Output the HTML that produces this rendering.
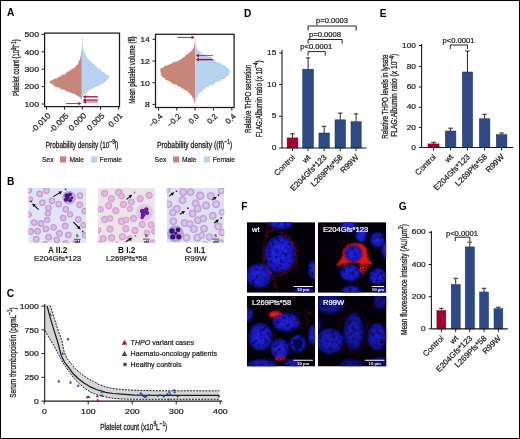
<!DOCTYPE html>
<html><head><meta charset="utf-8"><style>
html,body{margin:0;padding:0;background:#fff;}
svg{display:block;font-family:"Liberation Sans", sans-serif;will-change:transform;}
</style></head><body>
<svg width="520" height="439" viewBox="0 0 520 439">
<defs><clipPath id="clipB1"><rect x="28.3" y="187.9" width="57.7" height="55.099999999999994"/></clipPath><radialGradient id="rbc1"><stop offset="0" stop-color="#d9c2ea"/><stop offset="0.35" stop-color="#d9c2ea"/><stop offset="0.75" stop-color="#c89ad8"/><stop offset="0.92" stop-color="#c89ad8"/><stop offset="1" stop-color="#c89ad8" stop-opacity="0.6"/></radialGradient><clipPath id="clipB2"><rect x="98" y="188" width="57" height="54.80000000000001"/></clipPath><radialGradient id="rbc2"><stop offset="0" stop-color="#e2bde0"/><stop offset="0.35" stop-color="#e2bde0"/><stop offset="0.75" stop-color="#d7a3d5"/><stop offset="0.92" stop-color="#d7a3d5"/><stop offset="1" stop-color="#d7a3d5" stop-opacity="0.6"/></radialGradient><clipPath id="clipB3"><rect x="166.8" y="188" width="57.5" height="54.80000000000001"/></clipPath><radialGradient id="rbc3"><stop offset="0" stop-color="#d8c8ec"/><stop offset="0.35" stop-color="#d8c8ec"/><stop offset="0.75" stop-color="#c3a4da"/><stop offset="0.92" stop-color="#c3a4da"/><stop offset="1" stop-color="#c3a4da" stop-opacity="0.6"/></radialGradient><filter id="blurN" x="-30%" y="-30%" width="160%" height="160%"><feGaussianBlur stdDeviation="0.8"/></filter><filter id="texN" x="-10%" y="-10%" width="120%" height="120%" color-interpolation-filters="sRGB"><feTurbulence type="fractalNoise" baseFrequency="0.25" numOctaves="2" seed="4" result="noise"/><feColorMatrix in="noise" type="matrix" values="0 0 0 0 0  0 0 0 0 0  0 0 0 0 0  0 0 0 1.7 0.08" result="mask"/><feComposite in="SourceGraphic" in2="mask" operator="in" result="tex"/><feGaussianBlur in="tex" stdDeviation="0.45"/></filter><filter id="blurR" x="-30%" y="-30%" width="160%" height="160%"><feGaussianBlur stdDeviation="0.9"/></filter><filter id="blurD" x="-30%" y="-30%" width="160%" height="160%"><feGaussianBlur stdDeviation="0.35"/></filter><radialGradient id="nucg"><stop offset="0" stop-color="#2626f4"/><stop offset="0.65" stop-color="#1e1ee0"/><stop offset="1" stop-color="#12129a"/></radialGradient><clipPath id="clipF1"><rect x="247" y="222.2" width="68" height="70.6"/></clipPath><clipPath id="clipF2"><rect x="318" y="222.2" width="68.2" height="70.6"/></clipPath><clipPath id="clipF3"><rect x="247" y="296" width="68" height="70.5"/></clipPath><clipPath id="clipF4"><rect x="318" y="296" width="68.5" height="70.5"/></clipPath></defs>
<rect x="0" y="0" width="520" height="439" fill="#fff"/>
<text transform="translate(7.00,16.40)" font-size="10.2" text-anchor="start" font-weight="bold" fill="#000" >A</text>
<text transform="translate(7.00,184.50)" font-size="10.2" text-anchor="start" font-weight="bold" fill="#000" >B</text>
<text transform="translate(6.80,296.70)" font-size="10.2" text-anchor="start" font-weight="bold" fill="#000" >C</text>
<text transform="translate(244.00,16.70)" font-size="10.2" text-anchor="start" font-weight="bold" fill="#000" >D</text>
<text transform="translate(379.70,16.70)" font-size="10.2" text-anchor="start" font-weight="bold" fill="#000" >E</text>
<text transform="translate(241.20,210.10)" font-size="10.2" text-anchor="start" font-weight="bold" fill="#000" >F</text>
<text transform="translate(398.80,210.00)" font-size="10.2" text-anchor="start" font-weight="bold" fill="#000" >G</text>
<path d="M81.80,49.50 L81.60,49.50 L81.60,50.50 L81.44,50.50 L81.44,51.50 L81.29,51.50 L81.29,52.50 L81.16,52.50 L81.16,53.50 L80.94,53.50 L80.94,54.50 L80.86,54.50 L80.86,55.50 L80.63,55.50 L80.63,56.50 L80.39,56.50 L80.39,57.50 L80.24,57.50 L80.24,58.50 L79.96,58.50 L79.96,59.50 L79.52,59.50 L79.52,60.50 L78.95,60.50 L78.95,61.50 L78.52,61.50 L78.52,62.50 L78.32,62.50 L78.32,63.50 L78.01,63.50 L78.01,64.50 L76.59,64.50 L76.59,65.50 L75.68,65.50 L75.68,66.50 L75.25,66.50 L75.25,67.50 L73.94,67.50 L73.94,68.50 L71.61,68.50 L71.61,69.50 L70.81,69.50 L70.81,70.50 L69.19,70.50 L69.19,71.50 L66.75,71.50 L66.75,72.50 L66.62,72.50 L66.62,73.50 L64.99,73.50 L64.99,74.50 L61.58,74.50 L61.58,75.50 L61.14,75.50 L61.14,76.50 L58.64,76.50 L58.64,77.50 L57.35,77.50 L57.35,78.50 L54.33,78.50 L54.33,79.50 L52.45,79.50 L52.45,80.50 L50.15,80.50 L50.15,81.50 L49.62,81.50 L49.62,82.50 L49.75,82.50 L49.75,83.50 L51.76,83.50 L51.76,84.50 L53.58,84.50 L53.58,85.50 L53.87,85.50 L53.87,86.50 L56.54,86.50 L56.54,87.50 L60.09,87.50 L60.09,88.50 L60.89,88.50 L60.89,89.50 L64.53,89.50 L64.53,90.50 L66.11,90.50 L66.11,91.50 L68.83,91.50 L68.83,92.50 L71.62,92.50 L71.62,93.50 L74.68,93.50 L74.68,94.50 L76.07,94.50 L76.07,95.50 L77.87,95.50 L77.87,96.50 L79.52,96.50 L79.52,97.50 L80.47,97.50 L80.47,98.50 L81.19,98.50 L81.19,99.50 L81.80,99.50 Z" fill="#c8857a" stroke="none" stroke-width="0" />
<path d="M81.80,37.00 L82.30,37.00 L82.30,38.00 L82.36,38.00 L82.36,39.00 L82.40,39.00 L82.40,40.00 L82.45,40.00 L82.45,41.00 L82.52,41.00 L82.52,42.00 L82.58,42.00 L82.58,43.00 L82.61,43.00 L82.61,44.00 L82.66,44.00 L82.66,45.00 L82.78,45.00 L82.78,46.00 L82.98,46.00 L82.98,47.00 L83.18,47.00 L83.18,48.00 L83.36,48.00 L83.36,49.00 L83.55,49.00 L83.55,50.00 L83.67,50.00 L83.67,51.00 L84.10,51.00 L84.10,52.00 L84.65,52.00 L84.65,53.00 L85.14,53.00 L85.14,54.00 L85.70,54.00 L85.70,55.00 L85.88,55.00 L85.88,56.00 L86.48,56.00 L86.48,57.00 L87.07,57.00 L87.07,58.00 L87.70,58.00 L87.70,59.00 L88.66,59.00 L88.66,60.00 L89.76,60.00 L89.76,61.00 L90.88,61.00 L90.88,62.00 L91.81,62.00 L91.81,63.00 L92.89,63.00 L92.89,64.00 L94.23,64.00 L94.23,65.00 L94.96,65.00 L94.96,66.00 L96.62,66.00 L96.62,67.00 L97.52,67.00 L97.52,68.00 L98.36,68.00 L98.36,69.00 L100.76,69.00 L100.76,70.00 L100.71,70.00 L100.71,71.00 L101.93,71.00 L101.93,72.00 L104.56,72.00 L104.56,73.00 L105.66,73.00 L105.66,74.00 L105.72,74.00 L105.72,75.00 L108.59,75.00 L108.59,76.00 L109.28,76.00 L109.28,77.00 L109.57,77.00 L109.57,78.00 L108.04,78.00 L108.04,79.00 L108.16,79.00 L108.16,80.00 L106.31,80.00 L106.31,81.00 L106.15,81.00 L106.15,82.00 L103.60,82.00 L103.60,83.00 L103.17,83.00 L103.17,84.00 L100.44,84.00 L100.44,85.00 L99.10,85.00 L99.10,86.00 L96.71,86.00 L96.71,87.00 L94.52,87.00 L94.52,88.00 L92.67,88.00 L92.67,89.00 L90.68,89.00 L90.68,90.00 L88.88,90.00 L88.88,91.00 L87.45,91.00 L87.45,92.00 L86.52,92.00 L86.52,93.00 L85.12,93.00 L85.12,94.00 L84.13,94.00 L84.13,95.00 L83.03,95.00 L83.03,96.00 L81.80,96.00 Z" fill="#b7d3f1" stroke="none" stroke-width="0" />
<line x1="97.80" y1="96.80" x2="85.20" y2="96.80" stroke="#a3102e" stroke-width="1.3" />
<path d="M82.80,96.80 L85.80,95.00 L85.80,98.60 Z" fill="#a3102e" stroke="none" stroke-width="0" />
<line x1="97.80" y1="100.10" x2="85.20" y2="100.10" stroke="#a3102e" stroke-width="1.3" />
<path d="M82.80,100.10 L85.80,98.30 L85.80,101.90 Z" fill="#a3102e" stroke="none" stroke-width="0" />
<line x1="97.80" y1="102.00" x2="85.20" y2="102.00" stroke="#a3102e" stroke-width="0.8" />
<path d="M82.80,102.00 L85.80,100.20 L85.80,103.80 Z" fill="#a3102e" stroke="none" stroke-width="0" />
<line x1="65.90" y1="103.50" x2="78.90" y2="103.50" stroke="#a3102e" stroke-width="0.8" />
<path d="M81.30,103.50 L78.30,101.70 L78.30,105.30 Z" fill="#a3102e" stroke="none" stroke-width="0" />
<rect x="44.6" y="33.1" width="74.90" height="73.50" fill="none" stroke="#1a1a1a" stroke-width="1.25"/>
<line x1="41.60" y1="34.40" x2="44.60" y2="34.40" stroke="#1a1a1a" stroke-width="1" />
<text transform="translate(39.00,37.20) scale(1.12,1)" font-size="7.8" text-anchor="end" font-weight="normal" fill="#222"  stroke="#222" stroke-width="0.22">500</text>
<line x1="41.60" y1="51.80" x2="44.60" y2="51.80" stroke="#1a1a1a" stroke-width="1" />
<text transform="translate(39.00,54.60) scale(1.12,1)" font-size="7.8" text-anchor="end" font-weight="normal" fill="#222"  stroke="#222" stroke-width="0.22">400</text>
<line x1="41.60" y1="69.20" x2="44.60" y2="69.20" stroke="#1a1a1a" stroke-width="1" />
<text transform="translate(39.00,72.00) scale(1.12,1)" font-size="7.8" text-anchor="end" font-weight="normal" fill="#222"  stroke="#222" stroke-width="0.22">300</text>
<line x1="41.60" y1="86.60" x2="44.60" y2="86.60" stroke="#1a1a1a" stroke-width="1" />
<text transform="translate(39.00,89.40) scale(1.12,1)" font-size="7.8" text-anchor="end" font-weight="normal" fill="#222"  stroke="#222" stroke-width="0.22">200</text>
<line x1="41.60" y1="104.00" x2="44.60" y2="104.00" stroke="#1a1a1a" stroke-width="1" />
<text transform="translate(39.00,106.80) scale(1.12,1)" font-size="7.8" text-anchor="end" font-weight="normal" fill="#222"  stroke="#222" stroke-width="0.22">100</text>
<line x1="46.50" y1="106.60" x2="46.50" y2="109.60" stroke="#1a1a1a" stroke-width="1" />
<text transform="translate(51.00,116.20) rotate(-45) scale(1.07,1)" font-size="7.9" text-anchor="end" font-weight="normal" fill="#222"  stroke="#222" stroke-width="0.22">-0.010</text>
<line x1="64.60" y1="106.60" x2="64.60" y2="109.60" stroke="#1a1a1a" stroke-width="1" />
<text transform="translate(69.10,116.20) rotate(-45) scale(1.07,1)" font-size="7.9" text-anchor="end" font-weight="normal" fill="#222"  stroke="#222" stroke-width="0.22">-0.005</text>
<line x1="82.30" y1="106.60" x2="82.30" y2="109.60" stroke="#1a1a1a" stroke-width="1" />
<text transform="translate(86.80,116.20) rotate(-45) scale(1.07,1)" font-size="7.9" text-anchor="end" font-weight="normal" fill="#222"  stroke="#222" stroke-width="0.22">0.000</text>
<line x1="100.50" y1="106.60" x2="100.50" y2="109.60" stroke="#1a1a1a" stroke-width="1" />
<text transform="translate(105.00,116.20) rotate(-45) scale(1.07,1)" font-size="7.9" text-anchor="end" font-weight="normal" fill="#222"  stroke="#222" stroke-width="0.22">0.005</text>
<line x1="118.60" y1="106.60" x2="118.60" y2="109.60" stroke="#1a1a1a" stroke-width="1" />
<text transform="translate(123.10,116.20) rotate(-45) scale(1.07,1)" font-size="7.9" text-anchor="end" font-weight="normal" fill="#222"  stroke="#222" stroke-width="0.22">0.01</text>
<path d="M195.10,39.70 L195.00,39.70 L195.00,40.70 L194.83,40.70 L194.83,41.70 L194.67,41.70 L194.67,42.70 L194.47,42.70 L194.47,43.70 L194.35,43.70 L194.35,44.70 L194.15,44.70 L194.15,45.70 L193.99,45.70 L193.99,46.70 L193.66,46.70 L193.66,47.70 L193.18,47.70 L193.18,48.70 L192.93,48.70 L192.93,49.70 L192.05,49.70 L192.05,50.70 L191.16,50.70 L191.16,51.70 L189.77,51.70 L189.77,52.70 L188.89,52.70 L188.89,53.70 L187.07,53.70 L187.07,54.70 L185.85,54.70 L185.85,55.70 L185.05,55.70 L185.05,56.70 L183.94,56.70 L183.94,57.70 L181.87,57.70 L181.87,58.70 L181.27,58.70 L181.27,59.70 L178.96,59.70 L178.96,60.70 L177.24,60.70 L177.24,61.70 L173.41,61.70 L173.41,62.70 L172.06,62.70 L172.06,63.70 L169.58,63.70 L169.58,64.70 L167.47,64.70 L167.47,65.70 L164.09,65.70 L164.09,66.70 L163.71,66.70 L163.71,67.70 L161.18,67.70 L161.18,68.70 L159.94,68.70 L159.94,69.70 L160.53,69.70 L160.53,70.70 L160.21,70.70 L160.21,71.70 L160.79,71.70 L160.79,72.70 L160.61,72.70 L160.61,73.70 L161.30,73.70 L161.30,74.70 L160.48,74.70 L160.48,75.70 L161.84,75.70 L161.84,76.70 L162.75,76.70 L162.75,77.70 L164.72,77.70 L164.72,78.70 L165.07,78.70 L165.07,79.70 L167.13,79.70 L167.13,80.70 L169.49,80.70 L169.49,81.70 L170.97,81.70 L170.97,82.70 L172.11,82.70 L172.11,83.70 L174.42,83.70 L174.42,84.70 L177.17,84.70 L177.17,85.70 L178.33,85.70 L178.33,86.70 L180.77,86.70 L180.77,87.70 L181.86,87.70 L181.86,88.70 L183.95,88.70 L183.95,89.70 L185.64,89.70 L185.64,90.70 L187.39,90.70 L187.39,91.70 L188.31,91.70 L188.31,92.70 L189.43,92.70 L189.43,93.70 L190.28,93.70 L190.28,94.70 L191.21,94.70 L191.21,95.70 L191.83,95.70 L191.83,96.70 L192.54,96.70 L192.54,97.70 L192.95,97.70 L192.95,98.70 L193.73,98.70 L193.73,99.70 L193.85,99.70 L193.85,100.70 L194.15,100.70 L194.15,101.70 L194.44,101.70 L194.44,102.70 L194.66,102.70 L194.66,103.70 L194.85,103.70 L194.85,104.70 L195.10,104.70 Z" fill="#c8857a" stroke="none" stroke-width="0" />
<path d="M195.10,38.90 L195.31,38.90 L195.31,39.90 L195.42,39.90 L195.42,40.90 L195.51,40.90 L195.51,41.90 L195.62,41.90 L195.62,42.90 L195.72,42.90 L195.72,43.90 L195.83,43.90 L195.83,44.90 L195.96,44.90 L195.96,45.90 L196.22,45.90 L196.22,46.90 L196.72,46.90 L196.72,47.90 L197.25,47.90 L197.25,48.90 L197.85,48.90 L197.85,49.90 L198.32,49.90 L198.32,50.90 L199.74,50.90 L199.74,51.90 L201.26,51.90 L201.26,52.90 L201.88,52.90 L201.88,53.90 L204.28,53.90 L204.28,54.90 L206.71,54.90 L206.71,55.90 L207.54,55.90 L207.54,56.90 L211.11,56.90 L211.11,57.90 L211.52,57.90 L211.52,58.90 L214.50,58.90 L214.50,59.90 L215.14,59.90 L215.14,60.90 L215.87,60.90 L215.87,61.90 L217.82,61.90 L217.82,62.90 L221.09,62.90 L221.09,63.90 L222.03,63.90 L222.03,64.90 L224.47,64.90 L224.47,65.90 L226.03,65.90 L226.03,66.90 L227.11,66.90 L227.11,67.90 L228.63,67.90 L228.63,68.90 L229.07,68.90 L229.07,69.90 L229.66,69.90 L229.66,70.90 L229.92,70.90 L229.92,71.90 L228.83,71.90 L228.83,72.90 L230.07,72.90 L230.07,73.90 L228.46,73.90 L228.46,74.90 L228.57,74.90 L228.57,75.90 L226.27,75.90 L226.27,76.90 L226.34,76.90 L226.34,77.90 L224.41,77.90 L224.41,78.90 L221.11,78.90 L221.11,79.90 L221.01,79.90 L221.01,80.90 L217.69,80.90 L217.69,81.90 L215.43,81.90 L215.43,82.90 L214.76,82.90 L214.76,83.90 L213.24,83.90 L213.24,84.90 L209.70,84.90 L209.70,85.90 L208.60,85.90 L208.60,86.90 L206.09,86.90 L206.09,87.90 L205.29,87.90 L205.29,88.90 L204.09,88.90 L204.09,89.90 L202.35,89.90 L202.35,90.90 L201.29,90.90 L201.29,91.90 L200.59,91.90 L200.59,92.90 L199.49,92.90 L199.49,93.90 L198.62,93.90 L198.62,94.90 L198.13,94.90 L198.13,95.90 L197.56,95.90 L197.56,96.90 L197.07,96.90 L197.07,97.90 L196.76,97.90 L196.76,98.90 L196.33,98.90 L196.33,99.90 L195.95,99.90 L195.95,100.90 L195.72,100.90 L195.72,101.90 L195.52,101.90 L195.52,102.90 L195.30,102.90 L195.30,103.90 L195.10,103.90 Z" fill="#b7d3f1" stroke="none" stroke-width="0" />
<line x1="177.30" y1="37.40" x2="192.20" y2="37.40" stroke="#a3102e" stroke-width="0.9" />
<path d="M194.60,37.40 L191.60,35.60 L191.60,39.20 Z" fill="#a3102e" stroke="none" stroke-width="0" />
<line x1="212.90" y1="55.60" x2="198.20" y2="55.60" stroke="#a3102e" stroke-width="0.8" />
<path d="M195.80,55.60 L198.80,53.80 L198.80,57.40 Z" fill="#a3102e" stroke="none" stroke-width="0" />
<line x1="212.90" y1="59.60" x2="198.20" y2="59.60" stroke="#a3102e" stroke-width="1.4" />
<path d="M195.80,59.60 L198.80,57.80 L198.80,61.40 Z" fill="#a3102e" stroke="none" stroke-width="0" />
<rect x="155.5" y="34.3" width="78.60" height="73.20" fill="none" stroke="#1a1a1a" stroke-width="1.25"/>
<line x1="152.50" y1="39.30" x2="155.50" y2="39.30" stroke="#1a1a1a" stroke-width="1" />
<text transform="translate(149.90,42.10) scale(1.12,1)" font-size="7.8" text-anchor="end" font-weight="normal" fill="#222"  stroke="#222" stroke-width="0.22">14</text>
<line x1="152.50" y1="61.00" x2="155.50" y2="61.00" stroke="#1a1a1a" stroke-width="1" />
<text transform="translate(149.90,63.80) scale(1.12,1)" font-size="7.8" text-anchor="end" font-weight="normal" fill="#222"  stroke="#222" stroke-width="0.22">12</text>
<line x1="152.50" y1="82.70" x2="155.50" y2="82.70" stroke="#1a1a1a" stroke-width="1" />
<text transform="translate(149.90,85.50) scale(1.12,1)" font-size="7.8" text-anchor="end" font-weight="normal" fill="#222"  stroke="#222" stroke-width="0.22">10</text>
<line x1="152.50" y1="104.40" x2="155.50" y2="104.40" stroke="#1a1a1a" stroke-width="1" />
<text transform="translate(149.90,107.20) scale(1.12,1)" font-size="7.8" text-anchor="end" font-weight="normal" fill="#222"  stroke="#222" stroke-width="0.22">8</text>
<line x1="158.60" y1="107.50" x2="158.60" y2="110.50" stroke="#1a1a1a" stroke-width="1" />
<text transform="translate(163.10,116.80) rotate(-45)" font-size="7.9" text-anchor="end" font-weight="normal" fill="#222"  stroke="#222" stroke-width="0.22">−0.4</text>
<line x1="176.80" y1="107.50" x2="176.80" y2="110.50" stroke="#1a1a1a" stroke-width="1" />
<text transform="translate(181.30,116.80) rotate(-45)" font-size="7.9" text-anchor="end" font-weight="normal" fill="#222"  stroke="#222" stroke-width="0.22">−0.2</text>
<line x1="195.10" y1="107.50" x2="195.10" y2="110.50" stroke="#1a1a1a" stroke-width="1" />
<text transform="translate(199.60,116.80) rotate(-45)" font-size="7.9" text-anchor="end" font-weight="normal" fill="#222"  stroke="#222" stroke-width="0.22">0.0</text>
<line x1="213.40" y1="107.50" x2="213.40" y2="110.50" stroke="#1a1a1a" stroke-width="1" />
<text transform="translate(217.90,116.80) rotate(-45)" font-size="7.9" text-anchor="end" font-weight="normal" fill="#222"  stroke="#222" stroke-width="0.22">0.2</text>
<line x1="231.80" y1="107.50" x2="231.80" y2="110.50" stroke="#1a1a1a" stroke-width="1" />
<text transform="translate(236.30,116.80) rotate(-45)" font-size="7.9" text-anchor="end" font-weight="normal" fill="#222"  stroke="#222" stroke-width="0.22">0.4</text>
<text transform="translate(41.90,161.90) scale(0.88,1)" font-size="7.8" text-anchor="start" font-weight="normal" fill="#222"  stroke="#222" stroke-width="0.22">Sex</text>
<rect x="59.90" y="156.40" width="6.30" height="6.10" fill="#c8857a" stroke="none" stroke-width="0" />
<text transform="translate(69.40,161.90) scale(0.86,1)" font-size="7.8" text-anchor="start" font-weight="normal" fill="#222"  stroke="#222" stroke-width="0.22">Male</text>
<rect x="91.10" y="156.40" width="6.30" height="6.10" fill="#b7d3f1" stroke="none" stroke-width="0" />
<text transform="translate(99.60,161.90) scale(0.86,1)" font-size="7.8" text-anchor="start" font-weight="normal" fill="#222"  stroke="#222" stroke-width="0.22">Female</text>
<text transform="translate(154.60,161.90) scale(0.88,1)" font-size="7.8" text-anchor="start" font-weight="normal" fill="#222"  stroke="#222" stroke-width="0.22">Sex</text>
<rect x="173.00" y="156.40" width="6.30" height="6.10" fill="#c8857a" stroke="none" stroke-width="0" />
<text transform="translate(181.90,161.90) scale(0.86,1)" font-size="7.8" text-anchor="start" font-weight="normal" fill="#222"  stroke="#222" stroke-width="0.22">Male</text>
<rect x="203.80" y="156.40" width="6.30" height="6.10" fill="#b7d3f1" stroke="none" stroke-width="0" />
<text transform="translate(212.70,161.90) scale(0.86,1)" font-size="7.8" text-anchor="start" font-weight="normal" fill="#222"  stroke="#222" stroke-width="0.22">Female</text>
<g clip-path="url(#clipB1)">
<rect x="28.30" y="187.90" width="57.70" height="55.10" fill="#dfe4f6" stroke="none" stroke-width="0" />
<circle cx="46.51" cy="190.47" r="3.48" fill="url(#rbc1)"/>
<circle cx="39.68" cy="193.89" r="3.48" fill="url(#rbc1)"/>
<circle cx="29.01" cy="190.47" r="3.22" fill="url(#rbc1)"/>
<circle cx="30.10" cy="199.36" r="3.22" fill="url(#rbc1)"/>
<circle cx="51.98" cy="200.73" r="3.48" fill="url(#rbc1)"/>
<circle cx="42.41" cy="202.78" r="3.48" fill="url(#rbc1)"/>
<circle cx="58.82" cy="204.15" r="3.48" fill="url(#rbc1)"/>
<circle cx="48.56" cy="207.97" r="3.48" fill="url(#rbc1)"/>
<circle cx="28.74" cy="214.40" r="3.22" fill="url(#rbc1)"/>
<circle cx="47.88" cy="213.44" r="3.22" fill="url(#rbc1)"/>
<circle cx="65.66" cy="209.34" r="3.48" fill="url(#rbc1)"/>
<circle cx="70.03" cy="214.40" r="3.22" fill="url(#rbc1)"/>
<circle cx="80.02" cy="195.67" r="3.48" fill="url(#rbc1)"/>
<circle cx="79.61" cy="204.83" r="3.48" fill="url(#rbc1)"/>
<circle cx="84.53" cy="210.98" r="3.22" fill="url(#rbc1)"/>
<circle cx="63.20" cy="218.09" r="3.48" fill="url(#rbc1)"/>
<circle cx="78.24" cy="219.46" r="3.48" fill="url(#rbc1)"/>
<circle cx="34.21" cy="222.61" r="3.48" fill="url(#rbc1)"/>
<circle cx="41.04" cy="223.56" r="3.48" fill="url(#rbc1)"/>
<circle cx="47.20" cy="219.87" r="3.22" fill="url(#rbc1)"/>
<circle cx="53.62" cy="227.39" r="3.48" fill="url(#rbc1)"/>
<circle cx="45.83" cy="229.03" r="3.48" fill="url(#rbc1)"/>
<circle cx="37.62" cy="231.22" r="3.48" fill="url(#rbc1)"/>
<circle cx="30.79" cy="231.50" r="3.48" fill="url(#rbc1)"/>
<circle cx="65.25" cy="226.03" r="3.48" fill="url(#rbc1)"/>
<circle cx="59.50" cy="233.55" r="3.48" fill="url(#rbc1)"/>
<circle cx="68.39" cy="234.91" r="3.48" fill="url(#rbc1)"/>
<circle cx="48.56" cy="237.24" r="3.48" fill="url(#rbc1)"/>
<circle cx="36.26" cy="239.15" r="3.48" fill="url(#rbc1)"/>
<circle cx="56.77" cy="239.97" r="3.48" fill="url(#rbc1)"/>
<circle cx="83.44" cy="224.93" r="3.22" fill="url(#rbc1)"/>
<circle cx="85.08" cy="235.32" r="3.22" fill="url(#rbc1)"/>
<circle cx="65.66" cy="243.12" r="3.22" fill="url(#rbc1)"/>
<circle cx="45.15" cy="243.80" r="2.95" fill="url(#rbc1)"/>
<circle cx="75.23" cy="242.44" r="2.68" fill="url(#rbc1)"/>
<circle cx="69.21" cy="197.58" r="6.84" fill="#c6a2de"/>
<circle cx="66.75" cy="195.67" r="2.32" fill="#45157a"/>
<circle cx="70.03" cy="194.30" r="1.91" fill="#45157a"/>
<circle cx="65.93" cy="199.77" r="2.05" fill="#45157a"/>
<circle cx="70.03" cy="200.32" r="1.91" fill="#45157a"/>
<circle cx="68.12" cy="197.58" r="1.78" fill="#45157a"/>
<circle cx="71.81" cy="197.99" r="1.37" fill="#45157a"/>
<line x1="53.35" y1="196.62" x2="60.21" y2="192.40" stroke="#111" stroke-width="1.1" />
<path d="M62.24,191.15 L60.23,194.38 L58.45,191.49 Z" fill="#111" stroke="none" stroke-width="0" />
<circle cx="65.66" cy="189.38" r="0.9" fill="#4a1a8a"/>
<line x1="38.58" y1="209.62" x2="33.87" y2="205.11" stroke="#111" stroke-width="1.1" />
<path d="M32.15,203.46 L35.79,204.58 L33.43,207.04 Z" fill="#111" stroke="none" stroke-width="0" />
<circle cx="31.20" cy="201.41" r="0.9" fill="#4a1a8a"/>
<line x1="73.18" y1="221.92" x2="79.02" y2="227.76" stroke="#111" stroke-width="1.1" />
<path d="M80.70,229.44 L77.09,228.24 L79.50,225.84 Z" fill="#111" stroke="none" stroke-width="0" />
<circle cx="82.75" cy="231.50" r="0.9" fill="#4a1a8a"/>
<text transform="translate(77.40,237.40)" font-size="4.0" text-anchor="middle" font-weight="normal" fill="#333" text-rendering="geometricPrecision" stroke="#333" stroke-width="0.22">5</text>
<line x1="74.10" y1="239.30" x2="80.70" y2="239.30" stroke="#2a2a2a" stroke-width="0.8" />
<text transform="translate(77.40,242.70)" font-size="3.8" text-anchor="middle" font-weight="normal" fill="#333" text-rendering="geometricPrecision" stroke="#333" stroke-width="0.22">µM</text>
</g>
<g clip-path="url(#clipB2)">
<rect x="98.00" y="188.00" width="57.00" height="54.80" fill="#ebe5e9" stroke="none" stroke-width="0" />
<circle cx="104.57" cy="193.21" r="3.70" fill="url(#rbc2)"/>
<circle cx="118.93" cy="192.52" r="3.98" fill="url(#rbc2)"/>
<circle cx="121.67" cy="196.21" r="3.41" fill="url(#rbc2)"/>
<circle cx="140.13" cy="198.68" r="3.70" fill="url(#rbc2)"/>
<circle cx="149.02" cy="195.26" r="3.70" fill="url(#rbc2)"/>
<circle cx="111.41" cy="198.68" r="3.70" fill="url(#rbc2)"/>
<circle cx="131.24" cy="202.09" r="3.70" fill="url(#rbc2)"/>
<circle cx="100.47" cy="209.34" r="3.41" fill="url(#rbc2)"/>
<circle cx="108.68" cy="205.79" r="3.70" fill="url(#rbc2)"/>
<circle cx="115.79" cy="210.71" r="3.70" fill="url(#rbc2)"/>
<circle cx="123.44" cy="204.42" r="3.70" fill="url(#rbc2)"/>
<circle cx="129.87" cy="208.93" r="3.13" fill="url(#rbc2)"/>
<circle cx="104.57" cy="219.46" r="3.70" fill="url(#rbc2)"/>
<circle cx="110.04" cy="218.50" r="3.41" fill="url(#rbc2)"/>
<circle cx="121.67" cy="221.24" r="3.98" fill="url(#rbc2)"/>
<circle cx="126.18" cy="219.87" r="3.41" fill="url(#rbc2)"/>
<circle cx="133.56" cy="218.50" r="3.70" fill="url(#rbc2)"/>
<circle cx="98.42" cy="230.13" r="3.13" fill="url(#rbc2)"/>
<circle cx="110.04" cy="229.03" r="3.70" fill="url(#rbc2)"/>
<circle cx="125.77" cy="228.76" r="3.70" fill="url(#rbc2)"/>
<circle cx="134.93" cy="230.40" r="3.70" fill="url(#rbc2)"/>
<circle cx="142.18" cy="224.38" r="3.70" fill="url(#rbc2)"/>
<circle cx="151.07" cy="224.93" r="3.70" fill="url(#rbc2)"/>
<circle cx="103.21" cy="238.61" r="3.70" fill="url(#rbc2)"/>
<circle cx="111.68" cy="237.79" r="3.70" fill="url(#rbc2)"/>
<circle cx="122.35" cy="236.69" r="3.70" fill="url(#rbc2)"/>
<circle cx="129.46" cy="238.33" r="3.13" fill="url(#rbc2)"/>
<circle cx="146.97" cy="232.86" r="3.41" fill="url(#rbc2)"/>
<circle cx="154.08" cy="231.50" r="3.13" fill="url(#rbc2)"/>
<circle cx="152.44" cy="242.44" r="3.13" fill="url(#rbc2)"/>
<circle cx="99.10" cy="243.80" r="2.84" fill="url(#rbc2)"/>
<circle cx="116.88" cy="244.08" r="2.84" fill="url(#rbc2)"/>
<circle cx="144.50" cy="212.62" r="8.48" fill="#e2c8e8"/>
<circle cx="142.18" cy="210.98" r="2.32" fill="#6a1a9a"/>
<circle cx="146.28" cy="209.34" r="2.19" fill="#6a1a9a"/>
<circle cx="143.14" cy="214.81" r="2.46" fill="#6a1a9a"/>
<circle cx="147.24" cy="213.03" r="2.05" fill="#6a1a9a"/>
<circle cx="142.18" cy="217.55" r="1.78" fill="#6a1a9a"/>
<circle cx="144.91" cy="212.35" r="1.64" fill="#6a1a9a"/>
<line x1="126.45" y1="199.36" x2="130.33" y2="196.32" stroke="#111" stroke-width="1.1" />
<path d="M132.20,194.85 L130.57,198.28 L128.47,195.61 Z" fill="#111" stroke="none" stroke-width="0" />
<circle cx="134.66" cy="192.52" r="1.0" fill="#a070d0"/>
<line x1="125.77" y1="241.75" x2="130.19" y2="238.93" stroke="#111" stroke-width="1.1" />
<path d="M132.20,237.65 L130.25,240.91 L128.42,238.05 Z" fill="#111" stroke="none" stroke-width="0" />
<circle cx="135.34" cy="235.87" r="1.0" fill="#a070d0"/>
<text transform="translate(146.40,237.20)" font-size="4.0" text-anchor="middle" font-weight="normal" fill="#333" text-rendering="geometricPrecision" stroke="#333" stroke-width="0.22">5</text>
<line x1="143.10" y1="239.10" x2="149.70" y2="239.10" stroke="#2a2a2a" stroke-width="0.8" />
<text transform="translate(146.40,242.50)" font-size="3.8" text-anchor="middle" font-weight="normal" fill="#333" text-rendering="geometricPrecision" stroke="#333" stroke-width="0.22">µM</text>
</g>
<g clip-path="url(#clipB3)">
<rect x="166.80" y="188.00" width="57.50" height="54.80" fill="#e1e1f3" stroke="none" stroke-width="0" />
<circle cx="183.16" cy="192.05" r="4.03" fill="url(#rbc3)"/>
<circle cx="190.55" cy="192.05" r="4.03" fill="url(#rbc3)"/>
<circle cx="200.24" cy="195.68" r="4.44" fill="url(#rbc3)"/>
<circle cx="210.73" cy="196.09" r="4.03" fill="url(#rbc3)"/>
<circle cx="221.22" cy="190.71" r="3.50" fill="url(#rbc3)"/>
<circle cx="182.48" cy="200.12" r="4.03" fill="url(#rbc3)"/>
<circle cx="168.77" cy="204.16" r="3.77" fill="url(#rbc3)"/>
<circle cx="176.84" cy="208.86" r="4.17" fill="url(#rbc3)"/>
<circle cx="172.80" cy="212.63" r="3.77" fill="url(#rbc3)"/>
<circle cx="195.67" cy="203.22" r="4.03" fill="url(#rbc3)"/>
<circle cx="197.68" cy="208.60" r="4.03" fill="url(#rbc3)"/>
<circle cx="206.02" cy="205.50" r="4.17" fill="url(#rbc3)"/>
<circle cx="216.11" cy="204.16" r="4.03" fill="url(#rbc3)"/>
<circle cx="222.16" cy="212.23" r="3.50" fill="url(#rbc3)"/>
<circle cx="192.57" cy="213.57" r="4.03" fill="url(#rbc3)"/>
<circle cx="173.34" cy="221.24" r="4.03" fill="url(#rbc3)"/>
<circle cx="184.50" cy="222.99" r="4.03" fill="url(#rbc3)"/>
<circle cx="189.88" cy="223.93" r="3.77" fill="url(#rbc3)"/>
<circle cx="197.95" cy="220.30" r="4.03" fill="url(#rbc3)"/>
<circle cx="203.33" cy="218.55" r="3.77" fill="url(#rbc3)"/>
<circle cx="212.75" cy="215.86" r="4.03" fill="url(#rbc3)"/>
<circle cx="218.13" cy="226.35" r="4.03" fill="url(#rbc3)"/>
<circle cx="193.92" cy="229.04" r="4.03" fill="url(#rbc3)"/>
<circle cx="204.00" cy="228.77" r="4.03" fill="url(#rbc3)"/>
<circle cx="222.16" cy="232.40" r="3.77" fill="url(#rbc3)"/>
<circle cx="186.52" cy="237.78" r="4.03" fill="url(#rbc3)"/>
<circle cx="197.28" cy="237.78" r="4.03" fill="url(#rbc3)"/>
<circle cx="201.58" cy="235.50" r="3.50" fill="url(#rbc3)"/>
<circle cx="209.38" cy="237.11" r="3.77" fill="url(#rbc3)"/>
<circle cx="220.82" cy="242.49" r="3.23" fill="url(#rbc3)"/>
<circle cx="205.35" cy="244.10" r="2.96" fill="url(#rbc3)"/>
<circle cx="167.69" cy="190.03" r="2.96" fill="url(#rbc3)"/>
<circle cx="175.49" cy="233.75" r="8.47" fill="#b8a0dc"/>
<circle cx="171.99" cy="231.06" r="2.69" fill="#3a1070"/>
<circle cx="178.05" cy="229.85" r="2.42" fill="#3a1070"/>
<circle cx="172.80" cy="236.84" r="2.69" fill="#3a1070"/>
<circle cx="178.72" cy="236.84" r="2.56" fill="#3a1070"/>
<circle cx="175.76" cy="233.34" r="1.61" fill="#3a1070"/>
<line x1="169.03" y1="196.09" x2="172.47" y2="193.69" stroke="#111" stroke-width="1.1" />
<path d="M174.41,192.32 L172.60,195.66 L170.65,192.88 Z" fill="#111" stroke="none" stroke-width="0" />
<circle cx="176.43" cy="191.11" r="0.9" fill="#4a1a8a"/>
<line x1="179.79" y1="214.24" x2="183.16" y2="212.14" stroke="#111" stroke-width="1.1" />
<path d="M185.17,210.88 L183.19,214.13 L181.39,211.24 Z" fill="#111" stroke="none" stroke-width="0" />
<circle cx="187.86" cy="208.19" r="0.9" fill="#4a1a8a"/>
<line x1="212.07" y1="200.12" x2="214.85" y2="198.14" stroke="#111" stroke-width="1.1" />
<path d="M216.78,196.76 L215.00,200.12 L213.03,197.35 Z" fill="#111" stroke="none" stroke-width="0" />
<circle cx="218.53" cy="195.01" r="0.9" fill="#4a1a8a"/>
<line x1="214.09" y1="222.99" x2="217.10" y2="220.96" stroke="#111" stroke-width="1.1" />
<path d="M219.07,219.62 L217.20,222.94 L215.30,220.12 Z" fill="#111" stroke="none" stroke-width="0" />
<circle cx="221.22" cy="218.01" r="0.9" fill="#4a1a8a"/>
<text transform="translate(215.70,237.20)" font-size="4.0" text-anchor="middle" font-weight="normal" fill="#333" text-rendering="geometricPrecision" stroke="#333" stroke-width="0.22">5</text>
<line x1="212.40" y1="239.10" x2="219.00" y2="239.10" stroke="#2a2a2a" stroke-width="0.8" />
<text transform="translate(215.70,242.50)" font-size="3.8" text-anchor="middle" font-weight="normal" fill="#333" text-rendering="geometricPrecision" stroke="#333" stroke-width="0.22">µM</text>
</g>
<text transform="translate(57.60,252.70)" font-size="8.2" text-anchor="middle" font-weight="bold" fill="#111" >A II.2</text>
<text transform="translate(57.60,261.40)" font-size="7.95" text-anchor="middle" font-weight="normal" fill="#222"  stroke="#222" stroke-width="0.22">E204Gfs*123</text>
<text transform="translate(126.60,252.70)" font-size="8.2" text-anchor="middle" font-weight="bold" fill="#111" >B I.2</text>
<text transform="translate(126.60,261.40)" font-size="7.95" text-anchor="middle" font-weight="normal" fill="#222"  stroke="#222" stroke-width="0.22">L269Pfs*58</text>
<text transform="translate(195.60,252.70)" font-size="8.2" text-anchor="middle" font-weight="bold" fill="#111" >C II.1</text>
<text transform="translate(195.60,261.40)" font-size="7.95" text-anchor="middle" font-weight="normal" fill="#222"  stroke="#222" stroke-width="0.22">R99W</text>
<path d="M45.10,304.50 L50.30,305.50 L53.50,316.00 L57.80,329.40 L62.00,341.00 L64.20,352.30 L67.30,358.80 L71.90,364.60 L76.00,369.50 L81.20,373.80 L87.00,378.00 L93.50,381.50 L99.00,384.50 L105.80,386.90 L113.00,388.60 L121.20,389.50 L135.00,390.30 L160.00,390.80 L219.40,390.80 L219.40,399.30 L160.00,399.30 L135.00,399.30 L121.20,399.00 L113.00,398.30 L105.80,397.00 L97.00,394.80 L90.40,392.00 L85.00,388.50 L79.60,384.00 L75.00,379.50 L70.40,373.50 L65.00,366.00 L61.20,359.50 L57.50,352.50 L53.70,345.10 L48.00,336.00 L45.10,330.70 Z" fill="#d6d6d6" stroke="none" stroke-width="0" />
<path d="M50.30,305.50 L53.50,316.00 L57.80,329.40 L62.00,341.00 L64.20,352.30 L67.30,358.80 L71.90,364.60 L76.00,369.50 L81.20,373.80 L87.00,378.00 L93.50,381.50 L99.00,384.50 L105.80,386.90 L113.00,388.60 L121.20,389.50 L135.00,390.30 L160.00,390.80 L219.40,390.80" fill="none" stroke="#1a1a1a" stroke-width="1.0" stroke-dasharray="1.9,1.2"/>
<path d="M45.10,330.70 L48.00,336.00 L53.70,345.10 L57.50,352.50 L61.20,359.50 L65.00,366.00 L70.40,373.50 L75.00,379.50 L79.60,384.00 L85.00,388.50 L90.40,392.00 L97.00,394.80 L105.80,397.00 L113.00,398.30 L121.20,399.00 L135.00,399.30 L160.00,399.30 L219.40,399.30" fill="none" stroke="#1a1a1a" stroke-width="1.0" stroke-dasharray="1.9,1.2"/>
<path d="M47.10,306.00 L50.00,317.00 L53.70,329.40 L58.00,343.00 L61.20,355.40 L64.50,362.00 L68.80,367.70 L73.00,373.50 L78.10,378.50 L84.00,383.00 L90.40,386.90 L97.00,389.80 L105.80,392.30 L113.00,393.50 L121.20,394.20 L135.00,395.10 L160.00,395.30 L219.40,395.30" fill="none" stroke="#1a1a1a" stroke-width="1.2"/>
<line x1="44.70" y1="304.00" x2="44.70" y2="401.10" stroke="#1a1a1a" stroke-width="1.1" />
<line x1="44.70" y1="401.10" x2="222.30" y2="401.10" stroke="#1a1a1a" stroke-width="1.1" />
<line x1="41.50" y1="401.10" x2="44.70" y2="401.10" stroke="#1a1a1a" stroke-width="1" />
<text transform="translate(38.80,403.85) scale(1.12,1)" font-size="7.7" text-anchor="end" font-weight="normal" fill="#222"  stroke="#222" stroke-width="0.22">0</text>
<line x1="41.50" y1="377.35" x2="44.70" y2="377.35" stroke="#1a1a1a" stroke-width="1" />
<text transform="translate(38.80,380.10) scale(1.12,1)" font-size="7.7" text-anchor="end" font-weight="normal" fill="#222"  stroke="#222" stroke-width="0.22">250</text>
<line x1="41.50" y1="353.60" x2="44.70" y2="353.60" stroke="#1a1a1a" stroke-width="1" />
<text transform="translate(38.80,356.35) scale(1.12,1)" font-size="7.7" text-anchor="end" font-weight="normal" fill="#222"  stroke="#222" stroke-width="0.22">500</text>
<line x1="41.50" y1="329.85" x2="44.70" y2="329.85" stroke="#1a1a1a" stroke-width="1" />
<text transform="translate(38.80,332.60) scale(1.12,1)" font-size="7.7" text-anchor="end" font-weight="normal" fill="#222"  stroke="#222" stroke-width="0.22">750</text>
<line x1="41.50" y1="306.10" x2="44.70" y2="306.10" stroke="#1a1a1a" stroke-width="1" />
<text transform="translate(38.80,308.85) scale(1.12,1)" font-size="7.7" text-anchor="end" font-weight="normal" fill="#222"  stroke="#222" stroke-width="0.22">1000</text>
<line x1="44.20" y1="401.10" x2="44.20" y2="404.30" stroke="#1a1a1a" stroke-width="1" />
<text transform="translate(44.40,413.70) scale(1.13,1)" font-size="7.8" text-anchor="middle" font-weight="normal" fill="#222"  stroke="#222" stroke-width="0.22">0</text>
<line x1="88.20" y1="401.10" x2="88.20" y2="404.30" stroke="#1a1a1a" stroke-width="1" />
<text transform="translate(88.40,413.70) scale(1.13,1)" font-size="7.8" text-anchor="middle" font-weight="normal" fill="#222"  stroke="#222" stroke-width="0.22">100</text>
<line x1="132.20" y1="401.10" x2="132.20" y2="404.30" stroke="#1a1a1a" stroke-width="1" />
<text transform="translate(132.40,413.70) scale(1.13,1)" font-size="7.8" text-anchor="middle" font-weight="normal" fill="#222"  stroke="#222" stroke-width="0.22">200</text>
<line x1="176.20" y1="401.10" x2="176.20" y2="404.30" stroke="#1a1a1a" stroke-width="1" />
<text transform="translate(176.40,413.70) scale(1.13,1)" font-size="7.8" text-anchor="middle" font-weight="normal" fill="#222"  stroke="#222" stroke-width="0.22">300</text>
<line x1="220.20" y1="401.10" x2="220.20" y2="404.30" stroke="#1a1a1a" stroke-width="1" />
<text transform="translate(220.40,413.70) scale(1.13,1)" font-size="7.8" text-anchor="middle" font-weight="normal" fill="#222"  stroke="#222" stroke-width="0.22">400</text>
<path d="M50.30,313.06 L48.70,315.96 L51.89,315.96 Z" fill="#2b4a8c" stroke="none" stroke-width="0" />
<path d="M68.00,337.26 L66.41,340.16 L69.59,340.16 Z" fill="#2b4a8c" stroke="none" stroke-width="0" />
<path d="M62.50,351.96 L60.91,354.86 L64.09,354.86 Z" fill="#2b4a8c" stroke="none" stroke-width="0" />
<path d="M58.80,379.46 L57.20,382.36 L60.39,382.36 Z" fill="#2b4a8c" stroke="none" stroke-width="0" />
<path d="M70.40,380.56 L68.81,383.46 L72.00,383.46 Z" fill="#2b4a8c" stroke="none" stroke-width="0" />
<path d="M78.10,383.96 L76.50,386.86 L79.69,386.86 Z" fill="#2b4a8c" stroke="none" stroke-width="0" />
<path d="M101.90,389.76 L100.31,392.66 L103.50,392.66 Z" fill="#2b4a8c" stroke="none" stroke-width="0" />
<path d="M101.90,393.66 L100.31,396.56 L103.50,396.56 Z" fill="#2b4a8c" stroke="none" stroke-width="0" />
<path d="M87.30,395.46 L85.70,398.36 L88.89,398.36 Z" fill="#b5122e" stroke="none" stroke-width="0" />
<path d="M88.80,395.16 L87.20,398.06 L90.39,398.06 Z" fill="#b5122e" stroke="none" stroke-width="0" />
<path d="M97.30,394.46 L95.70,397.36 L98.89,397.36 Z" fill="#b5122e" stroke="none" stroke-width="0" />
<path d="M97.80,398.56 L96.20,401.46 L99.39,401.46 Z" fill="#b5122e" stroke="none" stroke-width="0" />
<circle cx="137.70" cy="395.20" r="1.1" fill="#2b4a8c"/>
<circle cx="140.60" cy="393.30" r="1.1" fill="#2b4a8c"/>
<circle cx="141.90" cy="394.60" r="1.1" fill="#2b4a8c"/>
<circle cx="143.50" cy="396.20" r="1.1" fill="#2b4a8c"/>
<circle cx="145.00" cy="397.10" r="1.1" fill="#2b4a8c"/>
<circle cx="146.30" cy="396.50" r="1.1" fill="#2b4a8c"/>
<circle cx="149.20" cy="395.20" r="1.1" fill="#2b4a8c"/>
<circle cx="157.90" cy="395.80" r="1.1" fill="#2b4a8c"/>
<circle cx="159.80" cy="395.20" r="1.1" fill="#2b4a8c"/>
<circle cx="163.70" cy="396.50" r="1.1" fill="#2b4a8c"/>
<circle cx="167.50" cy="394.20" r="1.1" fill="#2b4a8c"/>
<circle cx="169.40" cy="392.30" r="1.1" fill="#2b4a8c"/>
<circle cx="170.40" cy="394.60" r="1.1" fill="#2b4a8c"/>
<circle cx="168.50" cy="399.60" r="1.1" fill="#2b4a8c"/>
<circle cx="174.20" cy="390.00" r="1.1" fill="#2b4a8c"/>
<circle cx="174.60" cy="392.30" r="1.1" fill="#2b4a8c"/>
<circle cx="177.70" cy="396.50" r="1.1" fill="#2b4a8c"/>
<circle cx="218.80" cy="396.50" r="1.1" fill="#2b4a8c"/>
<path d="M124.50,339.64 L121.69,344.74 L127.31,344.74 Z" fill="#b5122e" stroke="none" stroke-width="0" />
<path d="M124.50,350.84 L121.69,355.94 L127.31,355.94 Z" fill="#2b4a8c" stroke="none" stroke-width="0" />
<circle cx="125.00" cy="364.40" r="1.85" fill="#2b4a8c"/>
<text transform="translate(130.60,344.60)" font-size="7.1" text-anchor="start" font-weight="normal" fill="#222"  stroke="#222" stroke-width="0.22"><tspan font-style="italic">THPO</tspan> variant cases</text>
<text transform="translate(130.60,355.90)" font-size="7.1" text-anchor="start" font-weight="normal" fill="#222"  stroke="#222" stroke-width="0.22">Haemato-oncology patients</text>
<text transform="translate(130.60,367.10)" font-size="7.1" text-anchor="start" font-weight="normal" fill="#222"  stroke="#222" stroke-width="0.22">Healthy controls</text>
<line x1="292.50" y1="137.90" x2="292.50" y2="133.80" stroke="#111" stroke-width="0.9" />
<line x1="290.20" y1="133.80" x2="294.80" y2="133.80" stroke="#111" stroke-width="0.9" />
<rect x="287.10" y="137.90" width="10.80" height="10.10" fill="#a6002a" stroke="#7a0020" stroke-width="0.5" />
<line x1="308.10" y1="69.20" x2="308.10" y2="57.90" stroke="#111" stroke-width="0.9" />
<line x1="305.80" y1="57.90" x2="310.40" y2="57.90" stroke="#111" stroke-width="0.9" />
<rect x="302.70" y="69.20" width="10.80" height="78.80" fill="#2e4a86" stroke="#1e2f5a" stroke-width="0.5" />
<line x1="324.15" y1="133.00" x2="324.15" y2="126.30" stroke="#111" stroke-width="0.9" />
<line x1="321.85" y1="126.30" x2="326.45" y2="126.30" stroke="#111" stroke-width="0.9" />
<rect x="318.90" y="133.00" width="10.50" height="15.00" fill="#2e4a86" stroke="#1e2f5a" stroke-width="0.5" />
<line x1="340.25" y1="119.80" x2="340.25" y2="113.10" stroke="#111" stroke-width="0.9" />
<line x1="337.95" y1="113.10" x2="342.55" y2="113.10" stroke="#111" stroke-width="0.9" />
<rect x="335.00" y="119.80" width="10.50" height="28.20" fill="#2e4a86" stroke="#1e2f5a" stroke-width="0.5" />
<line x1="356.10" y1="121.70" x2="356.10" y2="113.90" stroke="#111" stroke-width="0.9" />
<line x1="353.80" y1="113.90" x2="358.40" y2="113.90" stroke="#111" stroke-width="0.9" />
<rect x="351.00" y="121.70" width="10.20" height="26.30" fill="#2e4a86" stroke="#1e2f5a" stroke-width="0.5" />
<line x1="282.00" y1="50.00" x2="282.00" y2="148.00" stroke="#1a1a1a" stroke-width="1.1" />
<line x1="282.00" y1="148.00" x2="366.50" y2="148.00" stroke="#1a1a1a" stroke-width="1.1" />
<line x1="279.20" y1="53.00" x2="282.00" y2="53.00" stroke="#1a1a1a" stroke-width="1" />
<text transform="translate(276.30,55.10) scale(1.07,1)" font-size="7.8" text-anchor="end" font-weight="normal" fill="#222"  stroke="#222" stroke-width="0.22">15</text>
<line x1="279.20" y1="84.50" x2="282.00" y2="84.50" stroke="#1a1a1a" stroke-width="1" />
<text transform="translate(276.30,86.60) scale(1.07,1)" font-size="7.8" text-anchor="end" font-weight="normal" fill="#222"  stroke="#222" stroke-width="0.22">10</text>
<line x1="279.20" y1="116.30" x2="282.00" y2="116.30" stroke="#1a1a1a" stroke-width="1" />
<text transform="translate(276.30,118.40) scale(1.07,1)" font-size="7.8" text-anchor="end" font-weight="normal" fill="#222"  stroke="#222" stroke-width="0.22">5</text>
<line x1="279.20" y1="148.00" x2="282.00" y2="148.00" stroke="#1a1a1a" stroke-width="1" />
<text transform="translate(276.30,150.10) scale(1.07,1)" font-size="7.8" text-anchor="end" font-weight="normal" fill="#222"  stroke="#222" stroke-width="0.22">0</text>
<line x1="292.50" y1="148.00" x2="292.50" y2="151.00" stroke="#1a1a1a" stroke-width="1" />
<text transform="translate(295.50,157.90) rotate(-45)" font-size="8.0" text-anchor="end" font-weight="normal" fill="#222"  stroke="#222" stroke-width="0.22">Control</text>
<line x1="308.10" y1="148.00" x2="308.10" y2="151.00" stroke="#1a1a1a" stroke-width="1" />
<text transform="translate(311.10,157.90) rotate(-45)" font-size="8.0" text-anchor="end" font-weight="normal" fill="#222"  stroke="#222" stroke-width="0.22">wt</text>
<line x1="324.15" y1="148.00" x2="324.15" y2="151.00" stroke="#1a1a1a" stroke-width="1" />
<text transform="translate(327.15,157.90) rotate(-45)" font-size="8.0" text-anchor="end" font-weight="normal" fill="#222"  stroke="#222" stroke-width="0.22">E204Gfs*123</text>
<line x1="340.25" y1="148.00" x2="340.25" y2="151.00" stroke="#1a1a1a" stroke-width="1" />
<text transform="translate(343.25,157.90) rotate(-45)" font-size="8.0" text-anchor="end" font-weight="normal" fill="#222"  stroke="#222" stroke-width="0.22">L269Pfs*58</text>
<line x1="356.10" y1="148.00" x2="356.10" y2="151.00" stroke="#1a1a1a" stroke-width="1" />
<text transform="translate(359.10,157.90) rotate(-45)" font-size="8.0" text-anchor="end" font-weight="normal" fill="#222"  stroke="#222" stroke-width="0.22">R99W</text>
<path d="M308.10,55.60 L308.10,51.60 L325.30,51.60 L325.30,55.60" fill="none" stroke="#1a1a1a" stroke-width="0.95" />
<text transform="translate(316.20,49.30) scale(1.09,1)" font-size="7.0" text-anchor="middle" font-weight="normal" fill="#222"  stroke="#222" stroke-width="0.22">p&lt;0.0001</text>
<path d="M308.10,43.60 L308.10,39.50 L342.10,39.50 L342.10,43.60" fill="none" stroke="#1a1a1a" stroke-width="0.95" />
<text transform="translate(325.00,36.50) scale(1.09,1)" font-size="7.0" text-anchor="middle" font-weight="normal" fill="#222"  stroke="#222" stroke-width="0.22">p=0.0008</text>
<path d="M308.10,30.60 L308.10,26.00 L356.20,26.00 L356.20,30.60" fill="none" stroke="#1a1a1a" stroke-width="0.95" />
<text transform="translate(332.00,23.10) scale(1.09,1)" font-size="7.0" text-anchor="middle" font-weight="normal" fill="#222"  stroke="#222" stroke-width="0.22">p=0.0003</text>
<line x1="433.55" y1="143.90" x2="433.55" y2="142.30" stroke="#111" stroke-width="0.9" />
<line x1="431.25" y1="142.30" x2="435.85" y2="142.30" stroke="#111" stroke-width="0.9" />
<rect x="428.00" y="143.90" width="11.10" height="3.60" fill="#a6002a" stroke="#7a0020" stroke-width="0.5" />
<line x1="450.60" y1="131.00" x2="450.60" y2="128.20" stroke="#111" stroke-width="0.9" />
<line x1="448.30" y1="128.20" x2="452.90" y2="128.20" stroke="#111" stroke-width="0.9" />
<rect x="445.30" y="131.00" width="10.60" height="16.50" fill="#2e4a86" stroke="#1e2f5a" stroke-width="0.5" />
<line x1="467.45" y1="72.00" x2="467.45" y2="51.00" stroke="#111" stroke-width="0.9" />
<line x1="465.15" y1="51.00" x2="469.75" y2="51.00" stroke="#111" stroke-width="0.9" />
<rect x="462.30" y="72.00" width="10.30" height="75.50" fill="#2e4a86" stroke="#1e2f5a" stroke-width="0.5" />
<line x1="484.60" y1="118.80" x2="484.60" y2="114.30" stroke="#111" stroke-width="0.9" />
<line x1="482.30" y1="114.30" x2="486.90" y2="114.30" stroke="#111" stroke-width="0.9" />
<rect x="479.30" y="118.80" width="10.60" height="28.70" fill="#2e4a86" stroke="#1e2f5a" stroke-width="0.5" />
<line x1="501.60" y1="134.70" x2="501.60" y2="133.00" stroke="#111" stroke-width="0.9" />
<line x1="499.30" y1="133.00" x2="503.90" y2="133.00" stroke="#111" stroke-width="0.9" />
<rect x="496.30" y="134.70" width="10.60" height="12.80" fill="#2e4a86" stroke="#1e2f5a" stroke-width="0.5" />
<line x1="421.60" y1="44.00" x2="421.60" y2="147.50" stroke="#1a1a1a" stroke-width="1.1" />
<line x1="421.60" y1="147.50" x2="513.00" y2="147.50" stroke="#1a1a1a" stroke-width="1.1" />
<line x1="418.80" y1="45.50" x2="421.60" y2="45.50" stroke="#1a1a1a" stroke-width="1" />
<text transform="translate(415.90,47.60) scale(1.07,1)" font-size="7.8" text-anchor="end" font-weight="normal" fill="#222"  stroke="#222" stroke-width="0.22">100</text>
<line x1="418.80" y1="66.40" x2="421.60" y2="66.40" stroke="#1a1a1a" stroke-width="1" />
<text transform="translate(415.90,68.50) scale(1.07,1)" font-size="7.8" text-anchor="end" font-weight="normal" fill="#222"  stroke="#222" stroke-width="0.22">80</text>
<line x1="418.80" y1="87.00" x2="421.60" y2="87.00" stroke="#1a1a1a" stroke-width="1" />
<text transform="translate(415.90,89.10) scale(1.07,1)" font-size="7.8" text-anchor="end" font-weight="normal" fill="#222"  stroke="#222" stroke-width="0.22">60</text>
<line x1="418.80" y1="107.30" x2="421.60" y2="107.30" stroke="#1a1a1a" stroke-width="1" />
<text transform="translate(415.90,109.40) scale(1.07,1)" font-size="7.8" text-anchor="end" font-weight="normal" fill="#222"  stroke="#222" stroke-width="0.22">40</text>
<line x1="418.80" y1="127.40" x2="421.60" y2="127.40" stroke="#1a1a1a" stroke-width="1" />
<text transform="translate(415.90,129.50) scale(1.07,1)" font-size="7.8" text-anchor="end" font-weight="normal" fill="#222"  stroke="#222" stroke-width="0.22">20</text>
<line x1="418.80" y1="147.50" x2="421.60" y2="147.50" stroke="#1a1a1a" stroke-width="1" />
<text transform="translate(415.90,149.60) scale(1.07,1)" font-size="7.8" text-anchor="end" font-weight="normal" fill="#222"  stroke="#222" stroke-width="0.22">0</text>
<line x1="433.55" y1="147.50" x2="433.55" y2="150.50" stroke="#1a1a1a" stroke-width="1" />
<text transform="translate(436.55,157.40) rotate(-45)" font-size="8.0" text-anchor="end" font-weight="normal" fill="#222"  stroke="#222" stroke-width="0.22">Control</text>
<line x1="450.60" y1="147.50" x2="450.60" y2="150.50" stroke="#1a1a1a" stroke-width="1" />
<text transform="translate(453.60,157.40) rotate(-45)" font-size="8.0" text-anchor="end" font-weight="normal" fill="#222"  stroke="#222" stroke-width="0.22">wt</text>
<line x1="467.45" y1="147.50" x2="467.45" y2="150.50" stroke="#1a1a1a" stroke-width="1" />
<text transform="translate(470.45,157.40) rotate(-45)" font-size="8.0" text-anchor="end" font-weight="normal" fill="#222"  stroke="#222" stroke-width="0.22">E204Gfs*123</text>
<line x1="484.60" y1="147.50" x2="484.60" y2="150.50" stroke="#1a1a1a" stroke-width="1" />
<text transform="translate(487.60,157.40) rotate(-45)" font-size="8.0" text-anchor="end" font-weight="normal" fill="#222"  stroke="#222" stroke-width="0.22">L269Pfs*58</text>
<line x1="501.60" y1="147.50" x2="501.60" y2="150.50" stroke="#1a1a1a" stroke-width="1" />
<text transform="translate(504.60,157.40) rotate(-45)" font-size="8.0" text-anchor="end" font-weight="normal" fill="#222"  stroke="#222" stroke-width="0.22">R99W</text>
<path d="M450.30,49.00 L450.30,45.00 L467.50,45.00 L467.50,49.00" fill="none" stroke="#1a1a1a" stroke-width="0.95" />
<text transform="translate(458.50,42.70) scale(1.09,1)" font-size="7.0" text-anchor="middle" font-weight="normal" fill="#222"  stroke="#222" stroke-width="0.22">p&lt;0.0001</text>
<line x1="441.35" y1="310.60" x2="441.35" y2="308.30" stroke="#111" stroke-width="0.9" />
<line x1="439.05" y1="308.30" x2="443.65" y2="308.30" stroke="#111" stroke-width="0.9" />
<rect x="436.90" y="310.60" width="8.90" height="18.30" fill="#a6002a" stroke="#7a0020" stroke-width="0.5" />
<line x1="455.70" y1="284.50" x2="455.70" y2="278.30" stroke="#111" stroke-width="0.9" />
<line x1="453.40" y1="278.30" x2="458.00" y2="278.30" stroke="#111" stroke-width="0.9" />
<rect x="451.20" y="284.50" width="9.00" height="44.40" fill="#2e4a86" stroke="#1e2f5a" stroke-width="0.5" />
<line x1="469.80" y1="246.90" x2="469.80" y2="242.10" stroke="#111" stroke-width="0.9" />
<line x1="467.50" y1="242.10" x2="472.10" y2="242.10" stroke="#111" stroke-width="0.9" />
<rect x="465.20" y="246.90" width="9.20" height="82.00" fill="#2e4a86" stroke="#1e2f5a" stroke-width="0.5" />
<line x1="484.05" y1="292.00" x2="484.05" y2="288.30" stroke="#111" stroke-width="0.9" />
<line x1="481.75" y1="288.30" x2="486.35" y2="288.30" stroke="#111" stroke-width="0.9" />
<rect x="479.60" y="292.00" width="8.90" height="36.90" fill="#2e4a86" stroke="#1e2f5a" stroke-width="0.5" />
<line x1="498.40" y1="308.60" x2="498.40" y2="307.20" stroke="#111" stroke-width="0.9" />
<line x1="496.10" y1="307.20" x2="500.70" y2="307.20" stroke="#111" stroke-width="0.9" />
<rect x="494.00" y="308.60" width="8.80" height="20.30" fill="#2e4a86" stroke="#1e2f5a" stroke-width="0.5" />
<line x1="431.40" y1="231.00" x2="431.40" y2="328.90" stroke="#1a1a1a" stroke-width="1.1" />
<line x1="431.40" y1="328.90" x2="507.80" y2="328.90" stroke="#1a1a1a" stroke-width="1.1" />
<line x1="428.60" y1="232.30" x2="431.40" y2="232.30" stroke="#1a1a1a" stroke-width="1" />
<text transform="translate(425.70,234.40) scale(1.07,1)" font-size="7.8" text-anchor="end" font-weight="normal" fill="#222"  stroke="#222" stroke-width="0.22">600</text>
<line x1="428.60" y1="264.50" x2="431.40" y2="264.50" stroke="#1a1a1a" stroke-width="1" />
<text transform="translate(425.70,266.60) scale(1.07,1)" font-size="7.8" text-anchor="end" font-weight="normal" fill="#222"  stroke="#222" stroke-width="0.22">400</text>
<line x1="428.60" y1="296.70" x2="431.40" y2="296.70" stroke="#1a1a1a" stroke-width="1" />
<text transform="translate(425.70,298.80) scale(1.07,1)" font-size="7.8" text-anchor="end" font-weight="normal" fill="#222"  stroke="#222" stroke-width="0.22">200</text>
<line x1="428.60" y1="328.90" x2="431.40" y2="328.90" stroke="#1a1a1a" stroke-width="1" />
<text transform="translate(425.70,331.00) scale(1.07,1)" font-size="7.8" text-anchor="end" font-weight="normal" fill="#222"  stroke="#222" stroke-width="0.22">0</text>
<line x1="441.35" y1="328.90" x2="441.35" y2="331.90" stroke="#1a1a1a" stroke-width="1" />
<text transform="translate(444.35,338.80) rotate(-45)" font-size="8.0" text-anchor="end" font-weight="normal" fill="#222"  stroke="#222" stroke-width="0.22">Control</text>
<line x1="455.70" y1="328.90" x2="455.70" y2="331.90" stroke="#1a1a1a" stroke-width="1" />
<text transform="translate(458.70,338.80) rotate(-45)" font-size="8.0" text-anchor="end" font-weight="normal" fill="#222"  stroke="#222" stroke-width="0.22">wt</text>
<line x1="469.80" y1="328.90" x2="469.80" y2="331.90" stroke="#1a1a1a" stroke-width="1" />
<text transform="translate(472.80,338.80) rotate(-45)" font-size="8.0" text-anchor="end" font-weight="normal" fill="#222"  stroke="#222" stroke-width="0.22">E204Gfs*123</text>
<line x1="484.05" y1="328.90" x2="484.05" y2="331.90" stroke="#1a1a1a" stroke-width="1" />
<text transform="translate(487.05,338.80) rotate(-45)" font-size="8.0" text-anchor="end" font-weight="normal" fill="#222"  stroke="#222" stroke-width="0.22">L269Pfs*58</text>
<line x1="498.40" y1="328.90" x2="498.40" y2="331.90" stroke="#1a1a1a" stroke-width="1" />
<text transform="translate(501.40,338.80) rotate(-45)" font-size="8.0" text-anchor="end" font-weight="normal" fill="#222"  stroke="#222" stroke-width="0.22">R99W</text>
<path d="M455.30,241.00 L455.30,237.20 L469.80,237.20 L469.80,241.00" fill="none" stroke="#1a1a1a" stroke-width="0.95" />
<text transform="translate(461.90,235.50) scale(1.09,1)" font-size="7.0" text-anchor="middle" font-weight="normal" fill="#222"  stroke="#222" stroke-width="0.22">p&lt;0.0001</text>
<g clip-path="url(#clipF1)">
<rect x="247.00" y="222.20" width="68.00" height="70.60" fill="#030008" stroke="none" stroke-width="0" />
<g filter="url(#blurR)">
<path d="M268.00,222.00 L267.30,231.80 L264.80,243.30 L263.20,254.80 L264.80,264.60 L268.90,271.20 L273.00,276.10 L275.50,284.30 L277.10,293.00" fill="none" stroke="#c81818" stroke-opacity="0.28" stroke-width="2.2"/>
<path d="M267.30,231.80 L273.00,229.50 L279.60,231.80 L287.80,236.80 L294.30,245.00 L296.80,254.80 L295.20,264.60 L289.40,271.20 L282.90,274.50 L276.00,276.00" fill="none" stroke="#c81818" stroke-opacity="0.28" stroke-width="2.2"/>
</g>
<g filter="url(#texN)"><g filter="url(#blurN)">
<ellipse cx="281.00" cy="222.00" rx="12.50" ry="7.60" fill="url(#nucg)" fill-opacity="0.95"/>
<ellipse cx="280.00" cy="254.00" rx="15.50" ry="18.80" fill="url(#nucg)" fill-opacity="0.97"/>
<ellipse cx="259.00" cy="275.50" rx="13.00" ry="12.30" fill="url(#nucg)" fill-opacity="0.92"/>
<ellipse cx="314.50" cy="269.60" rx="6.50" ry="9.80" fill="url(#nucg)" fill-opacity="0.92"/>
<ellipse cx="304.00" cy="291.50" rx="9.50" ry="4.80" fill="url(#nucg)" fill-opacity="0.85"/>
</g></g>
<g filter="url(#blurD)">
<ellipse cx="271.13" cy="257.32" rx="1.72" ry="1.60" fill="#0a0a70" fill-opacity="0.30"/>
<ellipse cx="275.45" cy="250.63" rx="1.26" ry="1.28" fill="#0a0a70" fill-opacity="0.39"/>
<ellipse cx="285.67" cy="258.62" rx="0.80" ry="0.88" fill="#0a0a70" fill-opacity="0.36"/>
<ellipse cx="291.87" cy="257.88" rx="1.76" ry="1.81" fill="#0a0a70" fill-opacity="0.33"/>
<ellipse cx="280.83" cy="255.54" rx="1.28" ry="0.94" fill="#0a0a70" fill-opacity="0.21"/>
<ellipse cx="280.11" cy="256.61" rx="1.21" ry="1.11" fill="#0a0a70" fill-opacity="0.40"/>
<ellipse cx="270.15" cy="252.56" rx="1.25" ry="1.29" fill="#0a0a70" fill-opacity="0.29"/>
<ellipse cx="277.82" cy="268.79" rx="1.80" ry="2.01" fill="#0a0a70" fill-opacity="0.36"/>
<ellipse cx="277.63" cy="260.61" rx="1.02" ry="0.75" fill="#0a0a70" fill-opacity="0.38"/>
<ellipse cx="270.75" cy="262.11" rx="1.13" ry="1.33" fill="#0a0a70" fill-opacity="0.40"/>
<ellipse cx="285.68" cy="254.02" rx="1.70" ry="1.59" fill="#0a0a70" fill-opacity="0.44"/>
<ellipse cx="277.32" cy="256.44" rx="1.39" ry="1.52" fill="#0a0a70" fill-opacity="0.23"/>
<ellipse cx="286.11" cy="258.52" rx="1.76" ry="1.90" fill="#0a0a70" fill-opacity="0.19"/>
<ellipse cx="280.09" cy="258.78" rx="0.77" ry="0.84" fill="#0a0a70" fill-opacity="0.20"/>
<ellipse cx="272.27" cy="250.34" rx="0.91" ry="0.97" fill="#0a0a70" fill-opacity="0.19"/>
<ellipse cx="277.38" cy="249.97" rx="1.16" ry="0.94" fill="#0a0a70" fill-opacity="0.23"/>
<ellipse cx="290.93" cy="251.55" rx="1.03" ry="1.18" fill="#0a0a70" fill-opacity="0.21"/>
<ellipse cx="270.98" cy="262.57" rx="1.41" ry="1.05" fill="#0a0a70" fill-opacity="0.45"/>
<ellipse cx="260.21" cy="280.37" rx="1.55" ry="1.34" fill="#0a0a70" fill-opacity="0.24"/>
<ellipse cx="261.80" cy="276.81" rx="1.34" ry="1.10" fill="#0a0a70" fill-opacity="0.33"/>
<ellipse cx="254.15" cy="280.28" rx="1.76" ry="1.65" fill="#0a0a70" fill-opacity="0.32"/>
<ellipse cx="261.97" cy="272.37" rx="0.87" ry="1.00" fill="#0a0a70" fill-opacity="0.40"/>
<ellipse cx="259.01" cy="279.79" rx="1.51" ry="1.77" fill="#0a0a70" fill-opacity="0.21"/>
<ellipse cx="268.29" cy="272.65" rx="1.36" ry="1.24" fill="#0a0a70" fill-opacity="0.18"/>
<ellipse cx="268.90" cy="277.82" rx="0.96" ry="1.01" fill="#0a0a70" fill-opacity="0.23"/>
<ellipse cx="262.59" cy="268.70" rx="1.02" ry="0.81" fill="#0a0a70" fill-opacity="0.37"/>
<ellipse cx="285.17" cy="223.20" rx="1.32" ry="1.48" fill="#0a0a70" fill-opacity="0.33"/>
<ellipse cx="279.26" cy="227.64" rx="0.92" ry="0.65" fill="#0a0a70" fill-opacity="0.23"/>
<ellipse cx="278.78" cy="222.49" rx="0.89" ry="0.79" fill="#0a0a70" fill-opacity="0.32"/>
<ellipse cx="284.91" cy="224.66" rx="1.68" ry="2.00" fill="#0a0a70" fill-opacity="0.35"/>
<circle cx="268.95" cy="271.52" r="0.26" fill="#ff2020" fill-opacity="0.26"/>
<circle cx="275.19" cy="284.20" r="0.26" fill="#ff2020" fill-opacity="0.57"/>
<circle cx="263.56" cy="256.80" r="0.55" fill="#ff2020" fill-opacity="0.29"/>
<circle cx="264.27" cy="260.37" r="0.47" fill="#ff2020" fill-opacity="0.60"/>
<circle cx="274.30" cy="277.56" r="0.46" fill="#ff2020" fill-opacity="0.70"/>
<circle cx="273.89" cy="284.34" r="0.51" fill="#ff2020" fill-opacity="0.54"/>
<circle cx="265.80" cy="268.42" r="0.43" fill="#ff2020" fill-opacity="0.29"/>
<circle cx="269.10" cy="268.46" r="0.47" fill="#ff2020" fill-opacity="0.44"/>
<circle cx="270.63" cy="273.80" r="0.50" fill="#ff2020" fill-opacity="0.29"/>
<circle cx="273.40" cy="275.37" r="0.39" fill="#ff2020" fill-opacity="0.37"/>
<circle cx="268.47" cy="272.20" r="0.53" fill="#ff2020" fill-opacity="0.38"/>
<circle cx="267.51" cy="224.13" r="0.31" fill="#ff2020" fill-opacity="0.33"/>
<circle cx="275.31" cy="285.25" r="0.52" fill="#ff2020" fill-opacity="0.41"/>
<circle cx="268.60" cy="271.13" r="0.49" fill="#ff2020" fill-opacity="0.71"/>
<circle cx="274.58" cy="285.00" r="0.34" fill="#ff2020" fill-opacity="0.32"/>
<circle cx="264.74" cy="257.14" r="0.46" fill="#ff2020" fill-opacity="0.73"/>
<circle cx="265.47" cy="243.27" r="0.33" fill="#ff2020" fill-opacity="0.36"/>
<circle cx="262.77" cy="251.80" r="0.34" fill="#ff2020" fill-opacity="0.67"/>
<circle cx="276.52" cy="291.78" r="0.26" fill="#ff2020" fill-opacity="0.69"/>
<circle cx="267.48" cy="223.96" r="0.34" fill="#ff2020" fill-opacity="0.65"/>
<circle cx="268.55" cy="224.17" r="0.26" fill="#ff2020" fill-opacity="0.66"/>
<circle cx="265.80" cy="239.75" r="0.44" fill="#ff2020" fill-opacity="0.47"/>
<circle cx="265.96" cy="266.59" r="0.54" fill="#ff2020" fill-opacity="0.59"/>
<circle cx="265.67" cy="236.84" r="0.25" fill="#ff2020" fill-opacity="0.49"/>
<circle cx="270.78" cy="273.73" r="0.35" fill="#ff2020" fill-opacity="0.60"/>
<circle cx="262.98" cy="259.41" r="0.37" fill="#ff2020" fill-opacity="0.65"/>
<circle cx="277.62" cy="287.20" r="0.47" fill="#ff2020" fill-opacity="0.31"/>
<circle cx="261.92" cy="254.07" r="0.36" fill="#ff2020" fill-opacity="0.53"/>
<circle cx="276.08" cy="282.07" r="0.39" fill="#ff2020" fill-opacity="0.58"/>
<circle cx="265.84" cy="235.52" r="0.44" fill="#ff2020" fill-opacity="0.61"/>
<circle cx="268.04" cy="236.29" r="0.54" fill="#ff2020" fill-opacity="0.52"/>
<circle cx="272.68" cy="279.60" r="0.51" fill="#ff2020" fill-opacity="0.42"/>
<circle cx="266.50" cy="228.58" r="0.48" fill="#ff2020" fill-opacity="0.49"/>
<circle cx="267.97" cy="223.81" r="0.49" fill="#ff2020" fill-opacity="0.34"/>
<circle cx="264.44" cy="246.22" r="0.29" fill="#ff2020" fill-opacity="0.51"/>
<circle cx="271.66" cy="272.46" r="0.53" fill="#ff2020" fill-opacity="0.50"/>
<circle cx="276.96" cy="289.59" r="0.41" fill="#ff2020" fill-opacity="0.40"/>
<circle cx="270.47" cy="273.08" r="0.50" fill="#ff2020" fill-opacity="0.53"/>
<circle cx="263.29" cy="246.16" r="0.52" fill="#ff2020" fill-opacity="0.35"/>
<circle cx="275.90" cy="281.88" r="0.42" fill="#ff2020" fill-opacity="0.35"/>
<circle cx="263.07" cy="261.52" r="0.26" fill="#ff2020" fill-opacity="0.73"/>
<circle cx="262.75" cy="261.02" r="0.42" fill="#ff2020" fill-opacity="0.50"/>
<circle cx="270.39" cy="272.20" r="0.37" fill="#ff2020" fill-opacity="0.73"/>
<circle cx="275.94" cy="288.38" r="0.29" fill="#ff2020" fill-opacity="0.47"/>
<circle cx="274.90" cy="278.99" r="0.35" fill="#ff2020" fill-opacity="0.35"/>
<circle cx="266.82" cy="266.96" r="0.48" fill="#ff2020" fill-opacity="0.26"/>
<circle cx="266.50" cy="237.73" r="0.35" fill="#ff2020" fill-opacity="0.43"/>
<circle cx="267.63" cy="268.19" r="0.29" fill="#ff2020" fill-opacity="0.51"/>
<circle cx="265.77" cy="241.54" r="0.38" fill="#ff2020" fill-opacity="0.44"/>
<circle cx="263.00" cy="252.41" r="0.31" fill="#ff2020" fill-opacity="0.57"/>
<circle cx="294.19" cy="259.86" r="0.43" fill="#ff2020" fill-opacity="0.68"/>
<circle cx="283.46" cy="232.57" r="0.52" fill="#ff2020" fill-opacity="0.41"/>
<circle cx="289.18" cy="237.54" r="0.55" fill="#ff2020" fill-opacity="0.69"/>
<circle cx="276.95" cy="232.29" r="0.33" fill="#ff2020" fill-opacity="0.30"/>
<circle cx="286.63" cy="272.64" r="0.29" fill="#ff2020" fill-opacity="0.45"/>
<circle cx="295.95" cy="263.77" r="0.45" fill="#ff2020" fill-opacity="0.71"/>
<circle cx="279.16" cy="276.20" r="0.48" fill="#ff2020" fill-opacity="0.50"/>
<circle cx="295.47" cy="264.06" r="0.28" fill="#ff2020" fill-opacity="0.27"/>
<circle cx="295.35" cy="253.55" r="0.29" fill="#ff2020" fill-opacity="0.34"/>
<circle cx="283.15" cy="230.76" r="0.53" fill="#ff2020" fill-opacity="0.30"/>
<circle cx="272.64" cy="229.73" r="0.48" fill="#ff2020" fill-opacity="0.41"/>
<circle cx="293.96" cy="247.30" r="0.43" fill="#ff2020" fill-opacity="0.26"/>
<circle cx="295.32" cy="264.35" r="0.39" fill="#ff2020" fill-opacity="0.62"/>
<circle cx="293.09" cy="243.75" r="0.40" fill="#ff2020" fill-opacity="0.26"/>
<circle cx="284.33" cy="272.67" r="0.51" fill="#ff2020" fill-opacity="0.56"/>
<circle cx="292.00" cy="242.57" r="0.54" fill="#ff2020" fill-opacity="0.65"/>
<circle cx="286.49" cy="234.45" r="0.48" fill="#ff2020" fill-opacity="0.66"/>
<circle cx="294.40" cy="242.14" r="0.46" fill="#ff2020" fill-opacity="0.63"/>
<circle cx="290.57" cy="269.31" r="0.27" fill="#ff2020" fill-opacity="0.42"/>
<circle cx="295.79" cy="247.58" r="0.44" fill="#ff2020" fill-opacity="0.56"/>
<circle cx="284.78" cy="233.74" r="0.35" fill="#ff2020" fill-opacity="0.58"/>
<circle cx="295.89" cy="254.80" r="0.55" fill="#ff2020" fill-opacity="0.57"/>
<circle cx="295.18" cy="262.33" r="0.26" fill="#ff2020" fill-opacity="0.56"/>
<circle cx="293.06" cy="267.90" r="0.27" fill="#ff2020" fill-opacity="0.35"/>
<circle cx="292.06" cy="241.86" r="0.52" fill="#ff2020" fill-opacity="0.53"/>
<circle cx="296.82" cy="250.17" r="0.55" fill="#ff2020" fill-opacity="0.57"/>
<circle cx="290.61" cy="271.61" r="0.48" fill="#ff2020" fill-opacity="0.27"/>
<circle cx="281.76" cy="275.72" r="0.30" fill="#ff2020" fill-opacity="0.50"/>
<circle cx="298.28" cy="258.90" r="0.38" fill="#ff2020" fill-opacity="0.51"/>
<circle cx="295.93" cy="257.67" r="0.45" fill="#ff2020" fill-opacity="0.53"/>
<circle cx="286.72" cy="235.50" r="0.25" fill="#ff2020" fill-opacity="0.37"/>
<circle cx="271.17" cy="231.83" r="0.37" fill="#ff2020" fill-opacity="0.70"/>
<circle cx="295.18" cy="268.38" r="0.53" fill="#ff2020" fill-opacity="0.29"/>
<circle cx="282.11" cy="274.87" r="0.54" fill="#ff2020" fill-opacity="0.37"/>
<circle cx="297.31" cy="251.01" r="0.39" fill="#ff2020" fill-opacity="0.74"/>
<circle cx="288.73" cy="271.09" r="0.44" fill="#ff2020" fill-opacity="0.48"/>
<circle cx="282.71" cy="233.41" r="0.29" fill="#ff2020" fill-opacity="0.47"/>
<circle cx="294.88" cy="262.59" r="0.42" fill="#ff2020" fill-opacity="0.46"/>
<circle cx="288.05" cy="268.64" r="0.54" fill="#ff2020" fill-opacity="0.62"/>
<circle cx="285.37" cy="235.69" r="0.49" fill="#ff2020" fill-opacity="0.56"/>
<circle cx="290.53" cy="241.84" r="0.42" fill="#ff2020" fill-opacity="0.55"/>
<circle cx="296.00" cy="259.19" r="0.32" fill="#ff2020" fill-opacity="0.74"/>
<circle cx="282.48" cy="274.46" r="0.27" fill="#ff2020" fill-opacity="0.39"/>
<circle cx="293.55" cy="244.14" r="0.41" fill="#ff2020" fill-opacity="0.29"/>
<circle cx="272.92" cy="228.63" r="0.44" fill="#ff2020" fill-opacity="0.44"/>
<circle cx="295.33" cy="249.05" r="0.47" fill="#ff2020" fill-opacity="0.67"/>
<circle cx="273.76" cy="230.79" r="0.44" fill="#ff2020" fill-opacity="0.63"/>
<circle cx="281.67" cy="233.76" r="0.49" fill="#ff2020" fill-opacity="0.43"/>
<circle cx="296.53" cy="261.27" r="0.41" fill="#ff2020" fill-opacity="0.62"/>
<circle cx="281.13" cy="275.09" r="0.28" fill="#ff2020" fill-opacity="0.69"/>
</g>
<line x1="293.50" y1="286.50" x2="312.80" y2="286.50" stroke="#fff" stroke-width="1.1" />
<text transform="translate(303.15,290.90)" font-size="4.3" text-anchor="middle" font-weight="bold" fill="#fff" >10 µm</text>
<text transform="translate(252.00,231.60)" font-size="7.6" text-anchor="start" font-weight="normal" fill="#fff"  stroke="#fff" stroke-width="0.22">wt</text>
</g>
<g clip-path="url(#clipF2)">
<rect x="318.00" y="222.20" width="68.20" height="70.60" fill="#030008" stroke="none" stroke-width="0" />
<g filter="url(#blurR)">
<path d="M344.50,248.00 L350.00,244.50 L356.00,243.20 L362.00,244.50 L366.00,248.00 L367.50,254.00 L368.00,259.00 L371.50,263.00 L370.00,265.50 L366.00,264.00 L361.00,263.00 L355.00,262.50 L348.00,263.00 L342.00,264.50 L337.50,266.50 L336.50,265.00 L340.00,261.00 L342.50,256.00 L343.00,251.00 Z" fill="#f01818" fill-opacity="0.95"/>
<ellipse cx="363" cy="267.5" rx="3.8" ry="6" fill="#e01818" fill-opacity="0.45"/>
<ellipse cx="353.4" cy="253.6" rx="8.0" ry="7.6" fill="#04000c"/>
<ellipse cx="350.3" cy="273.5" rx="9.5" ry="7.5" fill="#04000c"/>
</g>
<g filter="url(#texN)"><g filter="url(#blurN)">
<ellipse cx="348.50" cy="226.00" rx="7.50" ry="6.50" fill="url(#nucg)" fill-opacity="0.95"/>
<ellipse cx="361.30" cy="234.50" rx="6.20" ry="7.80" fill="url(#nucg)" fill-opacity="0.92"/>
<ellipse cx="377.50" cy="239.70" rx="7.00" ry="7.80" fill="url(#nucg)" fill-opacity="0.92"/>
<ellipse cx="386.50" cy="250.50" rx="5.00" ry="8.50" fill="url(#nucg)" fill-opacity="0.9"/>
<ellipse cx="353.40" cy="253.50" rx="8.80" ry="8.30" fill="url(#nucg)" fill-opacity="0.97"/>
<ellipse cx="350.30" cy="273.00" rx="10.30" ry="8.50" fill="url(#nucg)" fill-opacity="0.95"/>
<ellipse cx="377.70" cy="276.50" rx="8.50" ry="8.50" fill="url(#nucg)" fill-opacity="0.92"/>
<ellipse cx="351.00" cy="290.50" rx="9.40" ry="5.00" fill="url(#nucg)" fill-opacity="0.85"/>
<ellipse cx="381.00" cy="290.00" rx="6.50" ry="4.50" fill="url(#nucg)" fill-opacity="0.8"/>
</g></g>
<g filter="url(#blurD)">
<ellipse cx="355.16" cy="254.35" rx="1.32" ry="1.24" fill="#0a0a70" fill-opacity="0.36"/>
<ellipse cx="351.96" cy="259.24" rx="0.78" ry="0.63" fill="#0a0a70" fill-opacity="0.35"/>
<ellipse cx="356.56" cy="255.28" rx="1.50" ry="1.57" fill="#0a0a70" fill-opacity="0.23"/>
<ellipse cx="355.90" cy="256.66" rx="1.50" ry="1.32" fill="#0a0a70" fill-opacity="0.19"/>
<ellipse cx="352.42" cy="248.32" rx="1.71" ry="2.00" fill="#0a0a70" fill-opacity="0.42"/>
<ellipse cx="348.49" cy="255.77" rx="1.04" ry="0.89" fill="#0a0a70" fill-opacity="0.27"/>
<ellipse cx="357.45" cy="270.43" rx="0.97" ry="0.86" fill="#0a0a70" fill-opacity="0.26"/>
<ellipse cx="346.91" cy="276.24" rx="1.13" ry="0.90" fill="#0a0a70" fill-opacity="0.32"/>
<ellipse cx="352.07" cy="268.22" rx="1.62" ry="1.59" fill="#0a0a70" fill-opacity="0.20"/>
<ellipse cx="350.73" cy="266.63" rx="1.01" ry="0.72" fill="#0a0a70" fill-opacity="0.30"/>
<ellipse cx="344.33" cy="271.60" rx="1.76" ry="1.81" fill="#0a0a70" fill-opacity="0.39"/>
<ellipse cx="355.91" cy="274.97" rx="1.57" ry="1.16" fill="#0a0a70" fill-opacity="0.17"/>
<ellipse cx="377.18" cy="270.07" rx="0.79" ry="0.81" fill="#0a0a70" fill-opacity="0.19"/>
<ellipse cx="377.56" cy="271.02" rx="0.97" ry="0.79" fill="#0a0a70" fill-opacity="0.38"/>
<ellipse cx="371.81" cy="275.70" rx="1.13" ry="0.99" fill="#0a0a70" fill-opacity="0.44"/>
<ellipse cx="375.46" cy="272.28" rx="1.29" ry="1.37" fill="#0a0a70" fill-opacity="0.36"/>
<ellipse cx="381.45" cy="274.28" rx="1.61" ry="1.66" fill="#0a0a70" fill-opacity="0.41"/>
<circle cx="364.26" cy="262.18" r="0.57" fill="#ff2020" fill-opacity="0.98"/>
<circle cx="361.16" cy="264.04" r="0.51" fill="#ff2020" fill-opacity="0.90"/>
<circle cx="360.71" cy="269.40" r="0.34" fill="#ff2020" fill-opacity="0.87"/>
<circle cx="365.45" cy="267.29" r="0.35" fill="#ff2020" fill-opacity="0.60"/>
<circle cx="361.07" cy="269.02" r="0.59" fill="#ff2020" fill-opacity="0.53"/>
<circle cx="362.51" cy="269.46" r="0.49" fill="#ff2020" fill-opacity="0.89"/>
<circle cx="363.43" cy="268.90" r="0.44" fill="#ff2020" fill-opacity="0.79"/>
<circle cx="363.64" cy="266.86" r="0.33" fill="#ff2020" fill-opacity="0.59"/>
<circle cx="363.40" cy="270.45" r="0.52" fill="#ff2020" fill-opacity="0.80"/>
<circle cx="363.28" cy="270.13" r="0.38" fill="#ff2020" fill-opacity="0.59"/>
<circle cx="363.11" cy="264.04" r="0.46" fill="#ff2020" fill-opacity="0.91"/>
<circle cx="360.98" cy="267.91" r="0.57" fill="#ff2020" fill-opacity="0.96"/>
<circle cx="361.38" cy="271.34" r="0.59" fill="#ff2020" fill-opacity="0.74"/>
<circle cx="363.16" cy="268.86" r="0.58" fill="#ff2020" fill-opacity="0.90"/>
<circle cx="360.82" cy="270.48" r="0.45" fill="#ff2020" fill-opacity="0.64"/>
<circle cx="366.24" cy="267.19" r="0.37" fill="#ff2020" fill-opacity="0.51"/>
<circle cx="360.60" cy="268.15" r="0.54" fill="#ff2020" fill-opacity="0.86"/>
<circle cx="361.75" cy="265.98" r="0.35" fill="#ff2020" fill-opacity="0.66"/>
<circle cx="362.78" cy="273.27" r="0.45" fill="#ff2020" fill-opacity="0.82"/>
<circle cx="365.06" cy="267.36" r="0.46" fill="#ff2020" fill-opacity="0.58"/>
<circle cx="363.02" cy="267.27" r="0.55" fill="#ff2020" fill-opacity="0.92"/>
<circle cx="363.50" cy="265.90" r="0.38" fill="#ff2020" fill-opacity="0.86"/>
<circle cx="365.27" cy="269.96" r="0.44" fill="#ff2020" fill-opacity="0.98"/>
<circle cx="359.83" cy="264.53" r="0.39" fill="#ff2020" fill-opacity="0.89"/>
<circle cx="359.68" cy="270.46" r="0.33" fill="#ff2020" fill-opacity="0.91"/>
<circle cx="363.76" cy="271.92" r="0.46" fill="#ff2020" fill-opacity="0.58"/>
<circle cx="364.10" cy="264.49" r="0.39" fill="#ff2020" fill-opacity="0.54"/>
<circle cx="362.06" cy="271.48" r="0.51" fill="#ff2020" fill-opacity="0.68"/>
<circle cx="362.50" cy="265.64" r="0.42" fill="#ff2020" fill-opacity="0.73"/>
<circle cx="366.57" cy="266.33" r="0.50" fill="#ff2020" fill-opacity="0.51"/>
<circle cx="360.59" cy="271.14" r="0.37" fill="#ff2020" fill-opacity="0.78"/>
<circle cx="362.60" cy="267.67" r="0.60" fill="#ff2020" fill-opacity="0.90"/>
<circle cx="363.84" cy="272.19" r="0.39" fill="#ff2020" fill-opacity="0.69"/>
<circle cx="360.88" cy="266.66" r="0.40" fill="#ff2020" fill-opacity="0.70"/>
<circle cx="361.99" cy="264.78" r="0.36" fill="#ff2020" fill-opacity="0.87"/>
<circle cx="361.14" cy="272.79" r="0.47" fill="#ff2020" fill-opacity="0.86"/>
<circle cx="361.21" cy="272.41" r="0.33" fill="#ff2020" fill-opacity="0.57"/>
<circle cx="365.73" cy="270.35" r="0.51" fill="#ff2020" fill-opacity="0.59"/>
<circle cx="360.01" cy="270.77" r="0.48" fill="#ff2020" fill-opacity="0.55"/>
<circle cx="363.23" cy="269.93" r="0.34" fill="#ff2020" fill-opacity="0.70"/>
<circle cx="366.44" cy="270.12" r="0.43" fill="#ff2020" fill-opacity="0.76"/>
<circle cx="360.89" cy="263.16" r="0.55" fill="#ff2020" fill-opacity="0.69"/>
<circle cx="361.74" cy="270.97" r="0.30" fill="#ff2020" fill-opacity="0.70"/>
<circle cx="361.77" cy="261.66" r="0.54" fill="#ff2020" fill-opacity="0.83"/>
<circle cx="362.58" cy="266.97" r="0.40" fill="#ff2020" fill-opacity="0.67"/>
<circle cx="362.24" cy="265.86" r="0.41" fill="#ff2020" fill-opacity="0.75"/>
<circle cx="363.87" cy="262.03" r="0.48" fill="#ff2020" fill-opacity="0.58"/>
<circle cx="363.39" cy="261.64" r="0.46" fill="#ff2020" fill-opacity="0.68"/>
<circle cx="361.49" cy="267.49" r="0.51" fill="#ff2020" fill-opacity="0.99"/>
<circle cx="359.63" cy="266.97" r="0.55" fill="#ff2020" fill-opacity="0.60"/>
<circle cx="365.98" cy="265.83" r="0.36" fill="#ff2020" fill-opacity="0.54"/>
<circle cx="363.10" cy="272.20" r="0.51" fill="#ff2020" fill-opacity="0.66"/>
<circle cx="365.17" cy="265.89" r="0.44" fill="#ff2020" fill-opacity="0.56"/>
<circle cx="364.45" cy="267.12" r="0.57" fill="#ff2020" fill-opacity="0.77"/>
<circle cx="360.22" cy="265.77" r="0.38" fill="#ff2020" fill-opacity="0.95"/>
<circle cx="366.61" cy="267.22" r="0.48" fill="#ff2020" fill-opacity="0.56"/>
<circle cx="363.97" cy="264.53" r="0.57" fill="#ff2020" fill-opacity="0.62"/>
<circle cx="359.74" cy="264.98" r="0.36" fill="#ff2020" fill-opacity="0.77"/>
<circle cx="363.64" cy="268.01" r="0.35" fill="#ff2020" fill-opacity="0.99"/>
<circle cx="366.01" cy="265.63" r="0.39" fill="#ff2020" fill-opacity="0.84"/>
<circle cx="362.81" cy="263.68" r="0.48" fill="#ff2020" fill-opacity="0.90"/>
<circle cx="364.78" cy="267.78" r="0.44" fill="#ff2020" fill-opacity="0.57"/>
<circle cx="360.72" cy="270.56" r="0.35" fill="#ff2020" fill-opacity="0.76"/>
<circle cx="362.74" cy="272.16" r="0.40" fill="#ff2020" fill-opacity="0.82"/>
<circle cx="366.18" cy="268.70" r="0.34" fill="#ff2020" fill-opacity="0.98"/>
<circle cx="360.78" cy="265.00" r="0.42" fill="#ff2020" fill-opacity="0.81"/>
<circle cx="361.70" cy="262.49" r="0.53" fill="#ff2020" fill-opacity="0.74"/>
<circle cx="366.66" cy="267.31" r="0.56" fill="#ff2020" fill-opacity="0.70"/>
<circle cx="360.25" cy="269.38" r="0.57" fill="#ff2020" fill-opacity="0.76"/>
<circle cx="360.40" cy="266.86" r="0.57" fill="#ff2020" fill-opacity="0.66"/>
<circle cx="348.83" cy="243.85" r="0.52" fill="#ff2020" fill-opacity="0.78"/>
<circle cx="340.21" cy="265.93" r="0.32" fill="#ff2020" fill-opacity="0.52"/>
<circle cx="369.10" cy="265.38" r="0.32" fill="#ff2020" fill-opacity="0.83"/>
<circle cx="362.28" cy="263.76" r="0.42" fill="#ff2020" fill-opacity="0.58"/>
<circle cx="351.52" cy="243.63" r="0.50" fill="#ff2020" fill-opacity="0.93"/>
<circle cx="371.27" cy="263.22" r="0.52" fill="#ff2020" fill-opacity="0.76"/>
<circle cx="342.87" cy="257.60" r="0.34" fill="#ff2020" fill-opacity="0.75"/>
<circle cx="343.30" cy="252.45" r="0.39" fill="#ff2020" fill-opacity="0.63"/>
<circle cx="350.56" cy="244.02" r="0.42" fill="#ff2020" fill-opacity="0.65"/>
<circle cx="356.61" cy="262.67" r="0.57" fill="#ff2020" fill-opacity="0.62"/>
<circle cx="366.43" cy="263.12" r="0.44" fill="#ff2020" fill-opacity="0.56"/>
<circle cx="368.31" cy="252.14" r="0.36" fill="#ff2020" fill-opacity="0.91"/>
<circle cx="367.58" cy="258.51" r="0.56" fill="#ff2020" fill-opacity="1.00"/>
<circle cx="362.51" cy="244.89" r="0.56" fill="#ff2020" fill-opacity="0.48"/>
<circle cx="353.73" cy="243.16" r="0.57" fill="#ff2020" fill-opacity="0.93"/>
<circle cx="344.69" cy="264.67" r="0.58" fill="#ff2020" fill-opacity="0.69"/>
<circle cx="351.29" cy="244.75" r="0.51" fill="#ff2020" fill-opacity="0.56"/>
<circle cx="361.07" cy="245.17" r="0.54" fill="#ff2020" fill-opacity="0.65"/>
<circle cx="349.58" cy="262.40" r="0.37" fill="#ff2020" fill-opacity="0.62"/>
<circle cx="342.38" cy="254.40" r="0.49" fill="#ff2020" fill-opacity="0.50"/>
<circle cx="343.07" cy="249.76" r="0.46" fill="#ff2020" fill-opacity="0.47"/>
<circle cx="354.98" cy="262.95" r="0.54" fill="#ff2020" fill-opacity="0.50"/>
<circle cx="366.96" cy="251.31" r="0.38" fill="#ff2020" fill-opacity="0.75"/>
<circle cx="362.93" cy="243.32" r="0.31" fill="#ff2020" fill-opacity="0.70"/>
<circle cx="339.57" cy="266.04" r="0.45" fill="#ff2020" fill-opacity="0.55"/>
<circle cx="359.01" cy="262.42" r="0.50" fill="#ff2020" fill-opacity="0.88"/>
<circle cx="362.00" cy="263.39" r="0.51" fill="#ff2020" fill-opacity="0.74"/>
<circle cx="343.34" cy="253.32" r="0.35" fill="#ff2020" fill-opacity="0.78"/>
<circle cx="364.28" cy="247.71" r="0.54" fill="#ff2020" fill-opacity="0.89"/>
<circle cx="364.86" cy="247.40" r="0.47" fill="#ff2020" fill-opacity="0.72"/>
<circle cx="346.65" cy="245.59" r="0.47" fill="#ff2020" fill-opacity="0.93"/>
<circle cx="360.97" cy="244.35" r="0.45" fill="#ff2020" fill-opacity="0.69"/>
<circle cx="370.02" cy="266.40" r="0.32" fill="#ff2020" fill-opacity="0.95"/>
<circle cx="357.07" cy="262.47" r="0.37" fill="#ff2020" fill-opacity="0.53"/>
<circle cx="368.03" cy="254.37" r="0.49" fill="#ff2020" fill-opacity="0.74"/>
<circle cx="366.23" cy="249.68" r="0.55" fill="#ff2020" fill-opacity="0.54"/>
<circle cx="366.71" cy="249.65" r="0.55" fill="#ff2020" fill-opacity="0.88"/>
<circle cx="349.08" cy="245.08" r="0.36" fill="#ff2020" fill-opacity="0.98"/>
<circle cx="346.97" cy="245.85" r="0.60" fill="#ff2020" fill-opacity="0.53"/>
<circle cx="368.93" cy="264.93" r="0.37" fill="#ff2020" fill-opacity="0.94"/>
<circle cx="356.81" cy="243.78" r="0.43" fill="#ff2020" fill-opacity="0.49"/>
<circle cx="348.36" cy="246.17" r="0.52" fill="#ff2020" fill-opacity="0.58"/>
<circle cx="365.76" cy="248.58" r="0.44" fill="#ff2020" fill-opacity="0.96"/>
<circle cx="367.39" cy="260.75" r="0.48" fill="#ff2020" fill-opacity="0.47"/>
<circle cx="370.67" cy="262.02" r="0.40" fill="#ff2020" fill-opacity="0.83"/>
<circle cx="339.24" cy="259.73" r="0.44" fill="#ff2020" fill-opacity="0.67"/>
<circle cx="338.29" cy="262.79" r="0.36" fill="#ff2020" fill-opacity="0.64"/>
<circle cx="360.90" cy="244.23" r="0.36" fill="#ff2020" fill-opacity="0.57"/>
<circle cx="367.56" cy="265.28" r="0.60" fill="#ff2020" fill-opacity="0.82"/>
<circle cx="340.39" cy="261.12" r="0.32" fill="#ff2020" fill-opacity="0.83"/>
<circle cx="368.17" cy="259.33" r="0.35" fill="#ff2020" fill-opacity="0.59"/>
<circle cx="370.98" cy="261.01" r="0.38" fill="#ff2020" fill-opacity="0.65"/>
<circle cx="358.88" cy="243.49" r="0.53" fill="#ff2020" fill-opacity="0.85"/>
<circle cx="342.69" cy="256.73" r="0.42" fill="#ff2020" fill-opacity="0.50"/>
<circle cx="340.62" cy="259.75" r="0.46" fill="#ff2020" fill-opacity="0.48"/>
<circle cx="370.22" cy="261.69" r="0.35" fill="#ff2020" fill-opacity="0.78"/>
<circle cx="346.89" cy="246.91" r="0.46" fill="#ff2020" fill-opacity="0.52"/>
<circle cx="344.64" cy="264.79" r="0.50" fill="#ff2020" fill-opacity="0.53"/>
<circle cx="362.80" cy="246.29" r="0.42" fill="#ff2020" fill-opacity="0.66"/>
<circle cx="340.44" cy="260.77" r="0.40" fill="#ff2020" fill-opacity="0.57"/>
<circle cx="348.71" cy="245.99" r="0.47" fill="#ff2020" fill-opacity="0.89"/>
<circle cx="343.16" cy="251.00" r="0.58" fill="#ff2020" fill-opacity="0.57"/>
<circle cx="345.61" cy="262.12" r="0.56" fill="#ff2020" fill-opacity="0.58"/>
<circle cx="352.40" cy="263.06" r="0.42" fill="#ff2020" fill-opacity="0.48"/>
<circle cx="369.19" cy="261.36" r="0.38" fill="#ff2020" fill-opacity="0.54"/>
<circle cx="370.40" cy="262.20" r="0.50" fill="#ff2020" fill-opacity="0.58"/>
<circle cx="352.21" cy="244.47" r="0.35" fill="#ff2020" fill-opacity="0.77"/>
<circle cx="344.32" cy="263.39" r="0.31" fill="#ff2020" fill-opacity="0.67"/>
<circle cx="368.85" cy="259.56" r="0.32" fill="#ff2020" fill-opacity="0.72"/>
<circle cx="355.91" cy="262.72" r="0.38" fill="#ff2020" fill-opacity="0.46"/>
<circle cx="368.48" cy="257.27" r="0.38" fill="#ff2020" fill-opacity="0.82"/>
<circle cx="360.66" cy="244.54" r="0.59" fill="#ff2020" fill-opacity="0.65"/>
<circle cx="358.34" cy="262.33" r="0.49" fill="#ff2020" fill-opacity="0.79"/>
<circle cx="370.89" cy="263.02" r="0.55" fill="#ff2020" fill-opacity="0.93"/>
<circle cx="369.56" cy="260.54" r="0.34" fill="#ff2020" fill-opacity="0.73"/>
<circle cx="366.45" cy="255.26" r="0.34" fill="#ff2020" fill-opacity="0.56"/>
<circle cx="364.55" cy="246.49" r="0.30" fill="#ff2020" fill-opacity="0.75"/>
<circle cx="370.25" cy="262.21" r="0.50" fill="#ff2020" fill-opacity="0.75"/>
<circle cx="351.61" cy="262.25" r="0.59" fill="#ff2020" fill-opacity="0.63"/>
<circle cx="368.26" cy="257.37" r="0.51" fill="#ff2020" fill-opacity="0.83"/>
</g>
<line x1="371.80" y1="286.50" x2="384.00" y2="286.50" stroke="#fff" stroke-width="1.1" />
<text transform="translate(377.90,290.90)" font-size="4.3" text-anchor="middle" font-weight="bold" fill="#fff" >10 µm</text>
<text transform="translate(323.00,231.60)" font-size="7.6" text-anchor="start" font-weight="normal" fill="#fff"  stroke="#fff" stroke-width="0.22">E204Gfs*123</text>
</g>
<g clip-path="url(#clipF3)">
<rect x="247.00" y="296.00" width="68.00" height="70.50" fill="#030008" stroke="none" stroke-width="0" />
<g filter="url(#blurR)">
<ellipse cx="275.6" cy="314.5" rx="6.5" ry="3.2" fill="#ff1a1a" fill-opacity="0.95"/>
<ellipse cx="280" cy="357.5" rx="5.5" ry="3.2" fill="#e01818" fill-opacity="0.7"/>
</g>
<g filter="url(#texN)"><g filter="url(#blurN)">
<ellipse cx="247.00" cy="314.50" rx="6.00" ry="7.50" fill="url(#nucg)" fill-opacity="0.92"/>
<ellipse cx="286.00" cy="322.20" rx="13.70" ry="9.40" fill="url(#nucg)" fill-opacity="0.92"/>
<ellipse cx="260.40" cy="336.70" rx="12.00" ry="13.70" fill="url(#nucg)" fill-opacity="0.93"/>
<ellipse cx="280.00" cy="348.80" rx="9.40" ry="10.30" fill="url(#nucg)" fill-opacity="0.9"/>
<ellipse cx="298.00" cy="343.50" rx="8.50" ry="8.70" fill="url(#nucg)" fill-opacity="0.9"/>
<ellipse cx="313.00" cy="335.00" rx="5.00" ry="10.00" fill="url(#nucg)" fill-opacity="0.88"/>
<ellipse cx="262.00" cy="364.50" rx="15.00" ry="5.50" fill="url(#nucg)" fill-opacity="0.8"/>
<ellipse cx="292.70" cy="364.50" rx="8.70" ry="5.50" fill="url(#nucg)" fill-opacity="0.8"/>
</g></g>
<g filter="url(#blurD)">
<ellipse cx="281.82" cy="315.40" rx="1.61" ry="1.25" fill="#0a0a70" fill-opacity="0.34"/>
<ellipse cx="277.78" cy="322.53" rx="1.11" ry="0.93" fill="#0a0a70" fill-opacity="0.37"/>
<ellipse cx="280.79" cy="321.42" rx="0.97" ry="0.84" fill="#0a0a70" fill-opacity="0.20"/>
<ellipse cx="282.12" cy="321.97" rx="0.77" ry="0.57" fill="#0a0a70" fill-opacity="0.18"/>
<ellipse cx="284.97" cy="319.78" rx="1.20" ry="1.30" fill="#0a0a70" fill-opacity="0.29"/>
<ellipse cx="291.33" cy="328.17" rx="1.66" ry="1.20" fill="#0a0a70" fill-opacity="0.23"/>
<ellipse cx="276.23" cy="321.89" rx="1.13" ry="1.20" fill="#0a0a70" fill-opacity="0.23"/>
<ellipse cx="284.66" cy="318.00" rx="1.07" ry="1.15" fill="#0a0a70" fill-opacity="0.40"/>
<ellipse cx="263.83" cy="329.43" rx="1.16" ry="1.22" fill="#0a0a70" fill-opacity="0.34"/>
<ellipse cx="264.59" cy="328.13" rx="0.84" ry="0.74" fill="#0a0a70" fill-opacity="0.35"/>
<ellipse cx="260.89" cy="341.38" rx="0.72" ry="0.71" fill="#0a0a70" fill-opacity="0.43"/>
<ellipse cx="263.85" cy="335.96" rx="1.46" ry="1.32" fill="#0a0a70" fill-opacity="0.34"/>
<ellipse cx="253.01" cy="343.10" rx="1.79" ry="1.29" fill="#0a0a70" fill-opacity="0.36"/>
<ellipse cx="261.85" cy="338.23" rx="1.01" ry="1.08" fill="#0a0a70" fill-opacity="0.45"/>
<ellipse cx="264.42" cy="341.01" rx="0.73" ry="0.71" fill="#0a0a70" fill-opacity="0.29"/>
<ellipse cx="256.66" cy="341.05" rx="1.58" ry="1.77" fill="#0a0a70" fill-opacity="0.24"/>
<ellipse cx="275.41" cy="352.88" rx="1.54" ry="1.84" fill="#0a0a70" fill-opacity="0.27"/>
<ellipse cx="278.09" cy="343.08" rx="1.58" ry="1.22" fill="#0a0a70" fill-opacity="0.20"/>
<ellipse cx="285.68" cy="353.76" rx="0.98" ry="0.92" fill="#0a0a70" fill-opacity="0.19"/>
<ellipse cx="279.53" cy="349.82" rx="1.32" ry="1.02" fill="#0a0a70" fill-opacity="0.34"/>
<ellipse cx="279.46" cy="352.69" rx="1.23" ry="1.09" fill="#0a0a70" fill-opacity="0.23"/>
<ellipse cx="298" cy="344" rx="5" ry="5.5" fill="#05053a" fill-opacity="0.85"/>
<circle cx="307.17" cy="320.80" r="0.52" fill="#ff2020" fill-opacity="0.49"/>
<circle cx="308.39" cy="322.02" r="0.40" fill="#ff2020" fill-opacity="0.90"/>
<circle cx="307.48" cy="328.90" r="0.40" fill="#ff2020" fill-opacity="0.55"/>
<circle cx="306.99" cy="314.11" r="0.27" fill="#ff2020" fill-opacity="0.63"/>
<circle cx="301.08" cy="313.42" r="0.33" fill="#ff2020" fill-opacity="0.86"/>
<circle cx="310.92" cy="312.50" r="0.38" fill="#ff2020" fill-opacity="0.80"/>
<circle cx="304.41" cy="315.86" r="0.26" fill="#ff2020" fill-opacity="0.40"/>
<circle cx="306.81" cy="321.86" r="0.36" fill="#ff2020" fill-opacity="0.75"/>
<circle cx="302.62" cy="326.67" r="0.25" fill="#ff2020" fill-opacity="0.43"/>
<circle cx="305.91" cy="319.73" r="0.41" fill="#ff2020" fill-opacity="0.79"/>
<circle cx="307.03" cy="311.73" r="0.37" fill="#ff2020" fill-opacity="0.78"/>
<circle cx="308.70" cy="312.26" r="0.55" fill="#ff2020" fill-opacity="0.36"/>
<circle cx="310.43" cy="318.05" r="0.46" fill="#ff2020" fill-opacity="0.45"/>
<circle cx="306.16" cy="319.18" r="0.42" fill="#ff2020" fill-opacity="0.44"/>
<circle cx="300.82" cy="323.92" r="0.45" fill="#ff2020" fill-opacity="0.79"/>
<circle cx="300.26" cy="326.00" r="0.36" fill="#ff2020" fill-opacity="0.47"/>
<circle cx="309.22" cy="316.82" r="0.28" fill="#ff2020" fill-opacity="0.50"/>
<circle cx="304.78" cy="315.41" r="0.47" fill="#ff2020" fill-opacity="0.63"/>
<circle cx="303.39" cy="316.19" r="0.28" fill="#ff2020" fill-opacity="0.39"/>
<circle cx="301.52" cy="325.30" r="0.25" fill="#ff2020" fill-opacity="0.60"/>
<circle cx="300.81" cy="323.24" r="0.41" fill="#ff2020" fill-opacity="0.87"/>
<circle cx="307.37" cy="329.01" r="0.35" fill="#ff2020" fill-opacity="0.75"/>
<circle cx="311.95" cy="326.25" r="0.38" fill="#ff2020" fill-opacity="0.88"/>
<circle cx="306.09" cy="326.27" r="0.46" fill="#ff2020" fill-opacity="0.41"/>
<circle cx="303.92" cy="328.14" r="0.53" fill="#ff2020" fill-opacity="0.49"/>
<circle cx="307.18" cy="325.46" r="0.55" fill="#ff2020" fill-opacity="0.39"/>
<circle cx="301.33" cy="315.39" r="0.44" fill="#ff2020" fill-opacity="0.43"/>
<circle cx="298.68" cy="313.71" r="0.51" fill="#ff2020" fill-opacity="0.68"/>
<circle cx="298.22" cy="319.77" r="0.28" fill="#ff2020" fill-opacity="0.80"/>
<circle cx="302.76" cy="313.74" r="0.45" fill="#ff2020" fill-opacity="0.55"/>
<circle cx="301.77" cy="323.18" r="0.43" fill="#ff2020" fill-opacity="0.64"/>
<circle cx="303.39" cy="319.83" r="0.44" fill="#ff2020" fill-opacity="0.57"/>
<circle cx="299.22" cy="315.73" r="0.53" fill="#ff2020" fill-opacity="0.39"/>
<circle cx="296.21" cy="321.95" r="0.47" fill="#ff2020" fill-opacity="0.49"/>
<circle cx="304.26" cy="310.09" r="0.37" fill="#ff2020" fill-opacity="0.82"/>
<circle cx="311.26" cy="327.11" r="0.40" fill="#ff2020" fill-opacity="0.44"/>
<circle cx="308.89" cy="313.20" r="0.53" fill="#ff2020" fill-opacity="0.80"/>
<circle cx="306.90" cy="313.17" r="0.55" fill="#ff2020" fill-opacity="0.34"/>
<circle cx="310.20" cy="313.85" r="0.33" fill="#ff2020" fill-opacity="0.78"/>
<circle cx="298.68" cy="322.08" r="0.51" fill="#ff2020" fill-opacity="0.42"/>
<circle cx="303.66" cy="327.88" r="0.27" fill="#ff2020" fill-opacity="0.63"/>
<circle cx="306.46" cy="313.18" r="0.32" fill="#ff2020" fill-opacity="0.78"/>
<circle cx="309.84" cy="313.06" r="0.41" fill="#ff2020" fill-opacity="0.84"/>
<circle cx="306.02" cy="316.27" r="0.36" fill="#ff2020" fill-opacity="0.36"/>
<circle cx="310.15" cy="321.35" r="0.51" fill="#ff2020" fill-opacity="0.80"/>
<circle cx="278.37" cy="316.15" r="0.37" fill="#ff2020" fill-opacity="0.94"/>
<circle cx="270.72" cy="312.45" r="0.27" fill="#ff2020" fill-opacity="1.00"/>
<circle cx="277.60" cy="318.06" r="0.51" fill="#ff2020" fill-opacity="0.89"/>
<circle cx="278.00" cy="318.09" r="0.38" fill="#ff2020" fill-opacity="0.61"/>
<circle cx="273.75" cy="316.90" r="0.44" fill="#ff2020" fill-opacity="0.71"/>
<circle cx="271.01" cy="312.99" r="0.30" fill="#ff2020" fill-opacity="0.65"/>
<circle cx="274.23" cy="312.44" r="0.29" fill="#ff2020" fill-opacity="0.65"/>
<circle cx="281.46" cy="313.87" r="0.36" fill="#ff2020" fill-opacity="0.68"/>
<circle cx="282.23" cy="314.89" r="0.47" fill="#ff2020" fill-opacity="0.74"/>
<circle cx="274.23" cy="317.37" r="0.29" fill="#ff2020" fill-opacity="0.85"/>
<circle cx="269.95" cy="316.65" r="0.37" fill="#ff2020" fill-opacity="0.78"/>
<circle cx="268.73" cy="314.84" r="0.35" fill="#ff2020" fill-opacity="0.88"/>
<circle cx="276.54" cy="318.03" r="0.34" fill="#ff2020" fill-opacity="0.95"/>
<circle cx="274.42" cy="318.60" r="0.45" fill="#ff2020" fill-opacity="0.78"/>
<circle cx="280.27" cy="313.99" r="0.47" fill="#ff2020" fill-opacity="0.84"/>
<circle cx="274.20" cy="315.32" r="0.38" fill="#ff2020" fill-opacity="0.71"/>
<circle cx="269.17" cy="316.42" r="0.34" fill="#ff2020" fill-opacity="0.88"/>
<circle cx="274.25" cy="313.25" r="0.37" fill="#ff2020" fill-opacity="0.65"/>
<circle cx="278.98" cy="313.77" r="0.38" fill="#ff2020" fill-opacity="0.74"/>
<circle cx="278.96" cy="311.67" r="0.43" fill="#ff2020" fill-opacity="0.82"/>
<circle cx="281.76" cy="317.22" r="0.28" fill="#ff2020" fill-opacity="0.75"/>
<circle cx="271.51" cy="317.41" r="0.45" fill="#ff2020" fill-opacity="0.74"/>
<circle cx="281.86" cy="312.67" r="0.26" fill="#ff2020" fill-opacity="0.85"/>
<circle cx="271.57" cy="315.46" r="0.39" fill="#ff2020" fill-opacity="0.73"/>
<circle cx="273.22" cy="312.26" r="0.54" fill="#ff2020" fill-opacity="0.99"/>
<circle cx="280.71" cy="314.88" r="0.50" fill="#ff2020" fill-opacity="0.86"/>
<circle cx="273.73" cy="311.19" r="0.27" fill="#ff2020" fill-opacity="0.78"/>
<circle cx="271.06" cy="316.88" r="0.32" fill="#ff2020" fill-opacity="1.00"/>
<circle cx="277.15" cy="317.35" r="0.29" fill="#ff2020" fill-opacity="0.76"/>
<circle cx="275.89" cy="313.85" r="0.30" fill="#ff2020" fill-opacity="0.86"/>
<circle cx="271.37" cy="312.59" r="0.33" fill="#ff2020" fill-opacity="0.92"/>
<circle cx="275.21" cy="311.50" r="0.29" fill="#ff2020" fill-opacity="0.79"/>
<circle cx="282.92" cy="315.37" r="0.53" fill="#ff2020" fill-opacity="0.96"/>
<circle cx="280.39" cy="315.36" r="0.41" fill="#ff2020" fill-opacity="0.81"/>
<circle cx="281.10" cy="317.29" r="0.34" fill="#ff2020" fill-opacity="0.80"/>
<circle cx="280.01" cy="317.13" r="0.29" fill="#ff2020" fill-opacity="0.64"/>
<circle cx="271.95" cy="314.83" r="0.48" fill="#ff2020" fill-opacity="0.70"/>
<circle cx="274.50" cy="315.48" r="0.32" fill="#ff2020" fill-opacity="0.78"/>
<circle cx="271.25" cy="314.03" r="0.51" fill="#ff2020" fill-opacity="0.64"/>
<circle cx="277.74" cy="313.73" r="0.54" fill="#ff2020" fill-opacity="0.81"/>
<circle cx="276.09" cy="359.15" r="0.51" fill="#ff2020" fill-opacity="0.98"/>
<circle cx="279.47" cy="357.70" r="0.30" fill="#ff2020" fill-opacity="0.91"/>
<circle cx="279.51" cy="354.31" r="0.30" fill="#ff2020" fill-opacity="0.77"/>
<circle cx="281.96" cy="357.73" r="0.34" fill="#ff2020" fill-opacity="0.98"/>
<circle cx="276.56" cy="354.76" r="0.26" fill="#ff2020" fill-opacity="0.71"/>
<circle cx="282.70" cy="358.42" r="0.28" fill="#ff2020" fill-opacity="0.96"/>
<circle cx="278.01" cy="359.84" r="0.45" fill="#ff2020" fill-opacity="0.94"/>
<circle cx="284.27" cy="356.55" r="0.40" fill="#ff2020" fill-opacity="0.95"/>
<circle cx="277.41" cy="358.78" r="0.47" fill="#ff2020" fill-opacity="0.63"/>
<circle cx="277.35" cy="359.34" r="0.39" fill="#ff2020" fill-opacity="0.68"/>
<circle cx="276.35" cy="358.58" r="0.26" fill="#ff2020" fill-opacity="0.92"/>
<circle cx="284.04" cy="358.54" r="0.41" fill="#ff2020" fill-opacity="0.70"/>
<circle cx="280.32" cy="358.68" r="0.36" fill="#ff2020" fill-opacity="0.66"/>
<circle cx="277.14" cy="357.68" r="0.47" fill="#ff2020" fill-opacity="0.74"/>
<circle cx="283.82" cy="357.64" r="0.54" fill="#ff2020" fill-opacity="0.50"/>
<circle cx="275.10" cy="355.44" r="0.36" fill="#ff2020" fill-opacity="0.80"/>
<circle cx="277.76" cy="359.03" r="0.43" fill="#ff2020" fill-opacity="0.79"/>
<circle cx="278.32" cy="359.96" r="0.40" fill="#ff2020" fill-opacity="0.88"/>
<circle cx="281.73" cy="357.88" r="0.33" fill="#ff2020" fill-opacity="0.64"/>
<circle cx="281.11" cy="355.12" r="0.51" fill="#ff2020" fill-opacity="0.70"/>
<circle cx="278.90" cy="360.55" r="0.28" fill="#ff2020" fill-opacity="0.99"/>
<circle cx="281.68" cy="355.60" r="0.35" fill="#ff2020" fill-opacity="0.91"/>
<circle cx="281.15" cy="354.54" r="0.27" fill="#ff2020" fill-opacity="0.88"/>
<circle cx="284.53" cy="358.39" r="0.42" fill="#ff2020" fill-opacity="0.96"/>
<circle cx="279.42" cy="357.07" r="0.53" fill="#ff2020" fill-opacity="0.88"/>
<circle cx="279.61" cy="357.36" r="0.47" fill="#ff2020" fill-opacity="0.71"/>
<circle cx="277.45" cy="354.09" r="0.53" fill="#ff2020" fill-opacity="0.54"/>
<circle cx="280.78" cy="355.03" r="0.48" fill="#ff2020" fill-opacity="0.69"/>
<circle cx="276.25" cy="358.31" r="0.29" fill="#ff2020" fill-opacity="0.66"/>
<circle cx="279.85" cy="356.49" r="0.28" fill="#ff2020" fill-opacity="0.92"/>
<circle cx="277.77" cy="355.07" r="0.28" fill="#ff2020" fill-opacity="0.56"/>
<circle cx="277.84" cy="360.95" r="0.42" fill="#ff2020" fill-opacity="0.96"/>
<circle cx="280.93" cy="359.87" r="0.41" fill="#ff2020" fill-opacity="0.92"/>
<circle cx="284.01" cy="359.99" r="0.39" fill="#ff2020" fill-opacity="0.52"/>
<circle cx="276.65" cy="358.47" r="0.45" fill="#ff2020" fill-opacity="0.96"/>
</g>
<line x1="293.50" y1="360.20" x2="312.80" y2="360.20" stroke="#fff" stroke-width="1.1" />
<text transform="translate(303.15,364.60)" font-size="4.3" text-anchor="middle" font-weight="bold" fill="#fff" >10 µm</text>
<text transform="translate(252.00,305.40)" font-size="7.6" text-anchor="start" font-weight="normal" fill="#fff"  stroke="#fff" stroke-width="0.22">L269Pfs*58</text>
</g>
<g clip-path="url(#clipF4)">
<rect x="318.00" y="296.00" width="68.50" height="70.50" fill="#030008" stroke="none" stroke-width="0" />
<g filter="url(#blurR)">
<path d="M367.50,331.50 L366.79,338.30 L364.73,344.43 L361.52,349.30 L357.48,352.42 L353.00,353.50 L348.52,352.42 L344.48,349.30 L341.27,344.43 L339.21,338.30 L338.50,331.50 L339.21,324.70 L341.27,318.57 L344.48,313.70 L348.52,310.58 L353.00,309.50 L357.48,310.58 L361.52,313.70 L364.73,318.57 L366.79,324.70 L367.50,331.50" fill="none" stroke="#a01818" stroke-opacity="0.14" stroke-width="2.0"/>
</g>
<g filter="url(#texN)"><g filter="url(#blurN)">
<ellipse cx="330.00" cy="304.00" rx="15.00" ry="10.00" fill="url(#nucg)" fill-opacity="0.62"/>
<ellipse cx="380.00" cy="302.00" rx="7.00" ry="8.00" fill="url(#nucg)" fill-opacity="0.55"/>
<ellipse cx="317.00" cy="324.00" rx="4.00" ry="7.70" fill="url(#nucg)" fill-opacity="0.6"/>
<ellipse cx="330.00" cy="341.00" rx="13.70" ry="12.80" fill="url(#nucg)" fill-opacity="0.8"/>
<ellipse cx="353.70" cy="331.60" rx="10.30" ry="18.80" fill="url(#nucg)" fill-opacity="0.72"/>
<ellipse cx="377.00" cy="336.70" rx="9.40" ry="13.70" fill="url(#nucg)" fill-opacity="0.8"/>
<ellipse cx="351.00" cy="364.00" rx="12.00" ry="5.00" fill="url(#nucg)" fill-opacity="0.5"/>
<ellipse cx="380.00" cy="362.00" rx="7.00" ry="6.00" fill="url(#nucg)" fill-opacity="0.5"/>
</g></g>
<g filter="url(#blurD)">
<ellipse cx="346.86" cy="332.10" rx="1.13" ry="1.23" fill="#0a0a70" fill-opacity="0.18"/>
<ellipse cx="353.54" cy="325.47" rx="1.34" ry="1.08" fill="#0a0a70" fill-opacity="0.25"/>
<ellipse cx="356.21" cy="339.22" rx="1.35" ry="1.30" fill="#0a0a70" fill-opacity="0.27"/>
<ellipse cx="346.95" cy="325.39" rx="1.09" ry="1.09" fill="#0a0a70" fill-opacity="0.29"/>
<ellipse cx="358.38" cy="330.55" rx="1.47" ry="1.20" fill="#0a0a70" fill-opacity="0.23"/>
<ellipse cx="352.93" cy="320.28" rx="0.98" ry="0.72" fill="#0a0a70" fill-opacity="0.40"/>
<ellipse cx="348.69" cy="340.46" rx="1.18" ry="1.19" fill="#0a0a70" fill-opacity="0.32"/>
<ellipse cx="361.47" cy="329.42" rx="1.20" ry="1.13" fill="#0a0a70" fill-opacity="0.22"/>
<ellipse cx="330.07" cy="337.73" rx="1.04" ry="1.17" fill="#0a0a70" fill-opacity="0.16"/>
<ellipse cx="327.37" cy="333.68" rx="1.31" ry="1.13" fill="#0a0a70" fill-opacity="0.20"/>
<ellipse cx="339.13" cy="338.28" rx="1.59" ry="1.19" fill="#0a0a70" fill-opacity="0.39"/>
<ellipse cx="330.96" cy="345.48" rx="1.29" ry="1.29" fill="#0a0a70" fill-opacity="0.19"/>
<ellipse cx="330.78" cy="333.22" rx="1.69" ry="1.96" fill="#0a0a70" fill-opacity="0.36"/>
<ellipse cx="322.98" cy="348.53" rx="1.49" ry="1.26" fill="#0a0a70" fill-opacity="0.41"/>
<ellipse cx="376.44" cy="331.12" rx="0.97" ry="0.69" fill="#0a0a70" fill-opacity="0.31"/>
<ellipse cx="376.91" cy="342.63" rx="0.98" ry="0.75" fill="#0a0a70" fill-opacity="0.30"/>
<ellipse cx="376.43" cy="342.49" rx="1.01" ry="0.96" fill="#0a0a70" fill-opacity="0.41"/>
<ellipse cx="380.73" cy="345.28" rx="1.64" ry="1.65" fill="#0a0a70" fill-opacity="0.31"/>
<ellipse cx="376.45" cy="328.73" rx="1.43" ry="1.65" fill="#0a0a70" fill-opacity="0.38"/>
<ellipse cx="376.89" cy="339.25" rx="1.73" ry="1.52" fill="#0a0a70" fill-opacity="0.39"/>
<circle cx="353.94" cy="353.33" r="0.47" fill="#ff2020" fill-opacity="0.48"/>
<circle cx="337.72" cy="330.48" r="0.32" fill="#ff2020" fill-opacity="0.48"/>
<circle cx="366.28" cy="343.35" r="0.27" fill="#ff2020" fill-opacity="0.47"/>
<circle cx="364.76" cy="342.78" r="0.55" fill="#ff2020" fill-opacity="0.26"/>
<circle cx="365.30" cy="317.91" r="0.27" fill="#ff2020" fill-opacity="0.16"/>
<circle cx="341.15" cy="323.26" r="0.51" fill="#ff2020" fill-opacity="0.42"/>
<circle cx="339.84" cy="329.64" r="0.31" fill="#ff2020" fill-opacity="0.33"/>
<circle cx="342.54" cy="347.37" r="0.46" fill="#ff2020" fill-opacity="0.30"/>
<circle cx="339.69" cy="333.67" r="0.42" fill="#ff2020" fill-opacity="0.49"/>
<circle cx="339.85" cy="325.09" r="0.35" fill="#ff2020" fill-opacity="0.40"/>
<circle cx="369.14" cy="324.13" r="0.53" fill="#ff2020" fill-opacity="0.45"/>
<circle cx="367.73" cy="324.21" r="0.43" fill="#ff2020" fill-opacity="0.39"/>
<circle cx="339.41" cy="317.33" r="0.28" fill="#ff2020" fill-opacity="0.33"/>
<circle cx="367.49" cy="326.95" r="0.51" fill="#ff2020" fill-opacity="0.49"/>
<circle cx="369.06" cy="334.64" r="0.46" fill="#ff2020" fill-opacity="0.33"/>
<circle cx="340.06" cy="320.61" r="0.25" fill="#ff2020" fill-opacity="0.17"/>
<circle cx="359.74" cy="310.58" r="0.37" fill="#ff2020" fill-opacity="0.27"/>
<circle cx="345.39" cy="348.25" r="0.33" fill="#ff2020" fill-opacity="0.35"/>
<circle cx="338.05" cy="329.79" r="0.39" fill="#ff2020" fill-opacity="0.23"/>
<circle cx="364.81" cy="318.80" r="0.33" fill="#ff2020" fill-opacity="0.32"/>
<circle cx="356.41" cy="311.05" r="0.45" fill="#ff2020" fill-opacity="0.24"/>
<circle cx="338.71" cy="330.93" r="0.31" fill="#ff2020" fill-opacity="0.23"/>
<circle cx="346.69" cy="353.02" r="0.45" fill="#ff2020" fill-opacity="0.43"/>
<circle cx="340.48" cy="327.70" r="0.32" fill="#ff2020" fill-opacity="0.23"/>
<circle cx="341.14" cy="341.13" r="0.36" fill="#ff2020" fill-opacity="0.47"/>
<circle cx="366.98" cy="330.76" r="0.49" fill="#ff2020" fill-opacity="0.42"/>
<circle cx="344.47" cy="347.97" r="0.34" fill="#ff2020" fill-opacity="0.36"/>
<circle cx="350.22" cy="310.01" r="0.25" fill="#ff2020" fill-opacity="0.32"/>
<circle cx="343.58" cy="345.73" r="0.29" fill="#ff2020" fill-opacity="0.22"/>
<circle cx="366.56" cy="317.37" r="0.35" fill="#ff2020" fill-opacity="0.48"/>
<circle cx="362.52" cy="344.63" r="0.31" fill="#ff2020" fill-opacity="0.20"/>
<circle cx="346.80" cy="311.74" r="0.53" fill="#ff2020" fill-opacity="0.31"/>
<circle cx="342.64" cy="346.17" r="0.53" fill="#ff2020" fill-opacity="0.18"/>
<circle cx="359.60" cy="350.90" r="0.34" fill="#ff2020" fill-opacity="0.21"/>
<circle cx="363.03" cy="344.94" r="0.42" fill="#ff2020" fill-opacity="0.42"/>
<circle cx="339.21" cy="328.30" r="0.32" fill="#ff2020" fill-opacity="0.18"/>
<circle cx="346.89" cy="348.78" r="0.40" fill="#ff2020" fill-opacity="0.21"/>
<circle cx="344.06" cy="349.22" r="0.49" fill="#ff2020" fill-opacity="0.49"/>
<circle cx="337.44" cy="334.95" r="0.39" fill="#ff2020" fill-opacity="0.22"/>
<circle cx="367.05" cy="325.05" r="0.48" fill="#ff2020" fill-opacity="0.29"/>
</g>
<line x1="365.00" y1="360.20" x2="384.30" y2="360.20" stroke="#fff" stroke-width="1.1" />
<text transform="translate(374.65,364.60)" font-size="4.3" text-anchor="middle" font-weight="bold" fill="#fff" >10 µm</text>
<text transform="translate(323.00,305.40)" font-size="7.6" text-anchor="start" font-weight="normal" fill="#fff"  stroke="#fff" stroke-width="0.22">R99W</text>
</g>
<text transform="translate(19.40,67.60) rotate(-90) scale(0.6579,1)" font-size="9.0" text-anchor="middle" font-weight="normal" fill="#222" stroke="#222" stroke-width="0.3">Platelet count (10<tspan font-size="6.66" dy="-3.42">9</tspan><tspan dy="3.42">l</tspan><tspan font-size="6.66" dy="-3.42">−1</tspan><tspan dy="3.42">)</tspan></text>
<text transform="translate(82.10,147.80) scale(0.7199,1)" font-size="9.0" text-anchor="middle" font-weight="normal" fill="#222" stroke="#222" stroke-width="0.3">Probability density (10<tspan font-size="6.66" dy="-3.42">−9</tspan><tspan dy="3.42">l)</tspan></text>
<text transform="translate(135.00,70.10) rotate(-90) scale(0.684,1)" font-size="9.0" text-anchor="middle" font-weight="normal" fill="#222" stroke="#222" stroke-width="0.3">Mean platelet volume (fl)</text>
<text transform="translate(194.60,147.80) scale(0.7559,1)" font-size="9.0" text-anchor="middle" font-weight="normal" fill="#222" stroke="#222" stroke-width="0.3">Probability density ((fl)<tspan font-size="6.66" dy="-3.42">−1</tspan><tspan dy="3.42">)</tspan></text>
<text transform="translate(15.60,352.50) rotate(-90) scale(0.7118,1)" font-size="9.0" text-anchor="middle" font-weight="normal" fill="#222" stroke="#222" stroke-width="0.3">Serum thrombopoietin (pgmL<tspan font-size="6.66" dy="-3.42">−1</tspan><tspan dy="3.42">)</tspan></text>
<text transform="translate(133.70,429.60) scale(0.7151,1)" font-size="9.0" text-anchor="middle" font-weight="normal" fill="#222" stroke="#222" stroke-width="0.3">Platelet count (x10<tspan font-size="6.66" dy="-3.42">9</tspan><tspan dy="3.42">L</tspan><tspan font-size="6.66" dy="-3.42">−1</tspan><tspan dy="3.42">)</tspan></text>
<text transform="translate(251.20,98.90) rotate(-90) scale(0.6898,1)" font-size="9.0" text-anchor="middle" font-weight="normal" fill="#222" stroke="#222" stroke-width="0.3">Relative THPO secretion</text>
<text transform="translate(261.80,98.80) rotate(-90) scale(0.6907,1)" font-size="9.0" text-anchor="middle" font-weight="normal" fill="#222" stroke="#222" stroke-width="0.3">FLAG:Albumin ratio (x 10<tspan font-size="6.66" dy="-3.42">−4</tspan><tspan dy="3.42">)</tspan></text>
<text transform="translate(387.50,96.60) rotate(-90) scale(0.6999,1)" font-size="9.0" text-anchor="middle" font-weight="normal" fill="#222" stroke="#222" stroke-width="0.3">Relative THPO levels in lysate</text>
<text transform="translate(397.00,95.20) rotate(-90) scale(0.7454,1)" font-size="9.0" text-anchor="middle" font-weight="normal" fill="#222" stroke="#222" stroke-width="0.3">FLAG:Albumin ratio (x 10<tspan font-size="6.66" dy="-3.42">−4</tspan><tspan dy="3.42">)</tspan></text>
<text transform="translate(406.80,279.60) rotate(-90) scale(0.7336,1)" font-size="9.0" text-anchor="middle" font-weight="normal" fill="#222" stroke="#222" stroke-width="0.3">Mean fluorescence intensity (AU/µm<tspan font-size="6.66" dy="-3.42">2</tspan><tspan dy="3.42">)</tspan></text>
<rect x="0.5" y="0.5" width="519" height="438" fill="none" stroke="#000" stroke-width="1"/>
</svg>
</body></html>
